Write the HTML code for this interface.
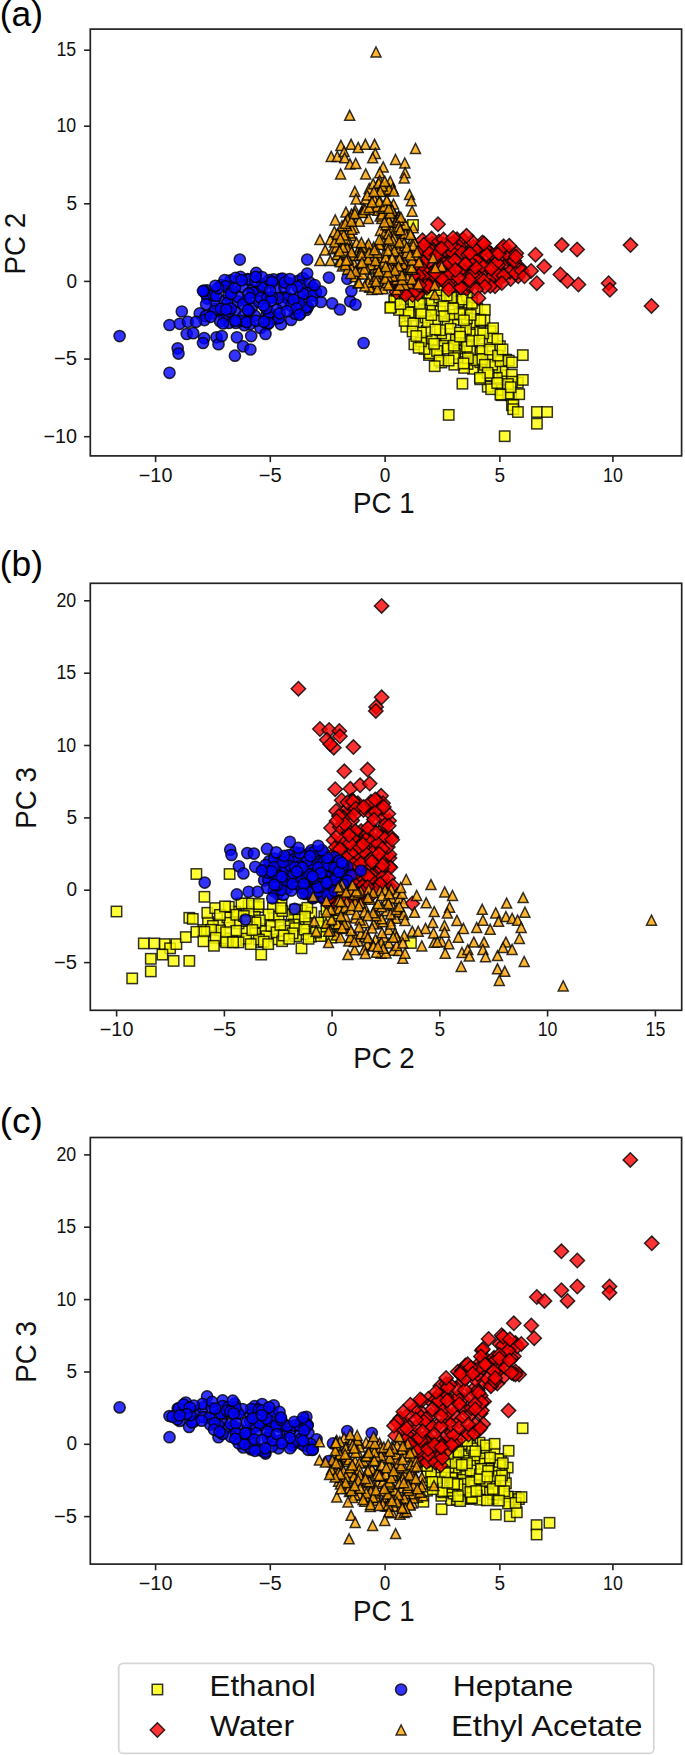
<!DOCTYPE html>
<html><head><meta charset="utf-8"><style>
html,body{margin:0;padding:0;background:#fff;}
svg{display:block;font-family:"Liberation Sans", sans-serif;}
#w{width:685px;height:1755px;overflow:hidden;}
</style></head><body><div id="w">
<svg width="685" height="1755" viewBox="0 0 685 1755">
<rect width="685" height="1755" fill="#fff"/>
<line x1="155.6" y1="455.9" x2="155.6" y2="462.1" stroke="#222" stroke-width="1.6"/>
<text x="155.6" y="481.6" font-size="19.5" text-anchor="middle" fill="#111" textLength="33.6" lengthAdjust="spacingAndGlyphs">−10</text>
<line x1="270.3" y1="455.9" x2="270.3" y2="462.1" stroke="#222" stroke-width="1.6"/>
<text x="270.3" y="481.6" font-size="19.5" text-anchor="middle" fill="#111" textLength="23.0" lengthAdjust="spacingAndGlyphs">−5</text>
<line x1="385.1" y1="455.9" x2="385.1" y2="462.1" stroke="#222" stroke-width="1.6"/>
<text x="385.1" y="481.6" font-size="19.5" text-anchor="middle" fill="#111" textLength="10.6" lengthAdjust="spacingAndGlyphs">0</text>
<line x1="499.9" y1="455.9" x2="499.9" y2="462.1" stroke="#222" stroke-width="1.6"/>
<text x="499.9" y="481.6" font-size="19.5" text-anchor="middle" fill="#111" textLength="10.6" lengthAdjust="spacingAndGlyphs">5</text>
<line x1="612.9" y1="455.9" x2="612.9" y2="462.1" stroke="#222" stroke-width="1.6"/>
<text x="612.9" y="481.6" font-size="19.5" text-anchor="middle" fill="#111" textLength="19.8" lengthAdjust="spacingAndGlyphs">10</text>
<line x1="84.1" y1="436.7" x2="90.3" y2="436.7" stroke="#222" stroke-width="1.6"/>
<text x="77" y="442.8" font-size="19.5" text-anchor="end" fill="#111" textLength="33.6" lengthAdjust="spacingAndGlyphs">−10</text>
<line x1="84.1" y1="359.1" x2="90.3" y2="359.1" stroke="#222" stroke-width="1.6"/>
<text x="77" y="365.2" font-size="19.5" text-anchor="end" fill="#111" textLength="23.0" lengthAdjust="spacingAndGlyphs">−5</text>
<line x1="84.1" y1="281.4" x2="90.3" y2="281.4" stroke="#222" stroke-width="1.6"/>
<text x="77" y="287.5" font-size="19.5" text-anchor="end" fill="#111" textLength="10.6" lengthAdjust="spacingAndGlyphs">0</text>
<line x1="84.1" y1="203.8" x2="90.3" y2="203.8" stroke="#222" stroke-width="1.6"/>
<text x="77" y="209.9" font-size="19.5" text-anchor="end" fill="#111" textLength="10.6" lengthAdjust="spacingAndGlyphs">5</text>
<line x1="84.1" y1="126.2" x2="90.3" y2="126.2" stroke="#222" stroke-width="1.6"/>
<text x="76.2" y="132.3" font-size="19.5" text-anchor="end" fill="#111" textLength="19.8" lengthAdjust="spacingAndGlyphs">10</text>
<line x1="84.1" y1="50.2" x2="90.3" y2="50.2" stroke="#222" stroke-width="1.6"/>
<text x="76.2" y="56.3" font-size="19.5" text-anchor="end" fill="#111" textLength="19.8" lengthAdjust="spacingAndGlyphs">15</text>
<text x="383.9" y="513.1" font-size="29.5" text-anchor="middle" fill="#111" textLength="61.6" lengthAdjust="spacingAndGlyphs">PC 1</text>
<text transform="translate(24.6,243.7) rotate(-90)" x="0" y="0" font-size="29.5" text-anchor="middle" fill="#111" textLength="61.6" lengthAdjust="spacingAndGlyphs">PC 2</text>
<text x="-0.3" y="25.6" font-size="35.5" fill="#000" textLength="43.2" lengthAdjust="spacingAndGlyphs">(a)</text>
<g fill="#ffff00" stroke="#000" stroke-width="1.5" fill-opacity="0.8" stroke-opacity="0.8"><rect x="398.3" y="300.4" width="10.4" height="10.4"/><rect x="434.8" y="306.1" width="10.4" height="10.4"/><rect x="432.4" y="350.6" width="10.4" height="10.4"/><rect x="469.2" y="330.9" width="10.4" height="10.4"/><rect x="483.2" y="351.1" width="10.4" height="10.4"/><rect x="468.6" y="326.4" width="10.4" height="10.4"/><rect x="415.7" y="293.7" width="10.4" height="10.4"/><rect x="399.7" y="308.0" width="10.4" height="10.4"/><rect x="409.2" y="339.1" width="10.4" height="10.4"/><rect x="460.3" y="346.4" width="10.4" height="10.4"/><rect x="467.9" y="363.6" width="10.4" height="10.4"/><rect x="423.3" y="298.6" width="10.4" height="10.4"/><rect x="440.7" y="332.5" width="10.4" height="10.4"/><rect x="475.2" y="347.5" width="10.4" height="10.4"/><rect x="512.6" y="377.4" width="10.4" height="10.4"/><rect x="436.0" y="328.2" width="10.4" height="10.4"/><rect x="416.5" y="317.7" width="10.4" height="10.4"/><rect x="464.8" y="345.5" width="10.4" height="10.4"/><rect x="424.9" y="304.1" width="10.4" height="10.4"/><rect x="452.1" y="343.2" width="10.4" height="10.4"/><rect x="448.8" y="314.6" width="10.4" height="10.4"/><rect x="408.5" y="307.9" width="10.4" height="10.4"/><rect x="462.4" y="358.8" width="10.4" height="10.4"/><rect x="406.6" y="292.1" width="10.4" height="10.4"/><rect x="463.3" y="302.5" width="10.4" height="10.4"/><rect x="460.7" y="286.4" width="10.4" height="10.4"/><rect x="422.2" y="286.9" width="10.4" height="10.4"/><rect x="496.9" y="370.1" width="10.4" height="10.4"/><rect x="420.2" y="312.2" width="10.4" height="10.4"/><rect x="423.0" y="339.3" width="10.4" height="10.4"/><rect x="496.3" y="390.0" width="10.4" height="10.4"/><rect x="497.4" y="365.8" width="10.4" height="10.4"/><rect x="420.8" y="332.7" width="10.4" height="10.4"/><rect x="497.2" y="384.7" width="10.4" height="10.4"/><rect x="427.0" y="334.3" width="10.4" height="10.4"/><rect x="442.4" y="318.4" width="10.4" height="10.4"/><rect x="423.8" y="349.8" width="10.4" height="10.4"/><rect x="456.5" y="307.6" width="10.4" height="10.4"/><rect x="482.5" y="381.5" width="10.4" height="10.4"/><rect x="472.0" y="303.3" width="10.4" height="10.4"/><rect x="475.2" y="313.9" width="10.4" height="10.4"/><rect x="479.2" y="314.7" width="10.4" height="10.4"/><rect x="466.1" y="317.3" width="10.4" height="10.4"/><rect x="437.6" y="340.6" width="10.4" height="10.4"/><rect x="458.9" y="362.7" width="10.4" height="10.4"/><rect x="405.1" y="293.7" width="10.4" height="10.4"/><rect x="461.7" y="313.2" width="10.4" height="10.4"/><rect x="506.0" y="390.0" width="10.4" height="10.4"/><rect x="477.0" y="343.7" width="10.4" height="10.4"/><rect x="467.5" y="329.3" width="10.4" height="10.4"/><rect x="393.8" y="304.7" width="10.4" height="10.4"/><rect x="424.5" y="348.0" width="10.4" height="10.4"/><rect x="486.0" y="384.0" width="10.4" height="10.4"/><rect x="491.6" y="372.6" width="10.4" height="10.4"/><rect x="485.3" y="326.1" width="10.4" height="10.4"/><rect x="479.6" y="304.6" width="10.4" height="10.4"/><rect x="475.1" y="357.0" width="10.4" height="10.4"/><rect x="452.9" y="335.4" width="10.4" height="10.4"/><rect x="445.6" y="294.6" width="10.4" height="10.4"/><rect x="506.6" y="369.5" width="10.4" height="10.4"/><rect x="449.8" y="348.3" width="10.4" height="10.4"/><rect x="430.0" y="315.3" width="10.4" height="10.4"/><rect x="419.3" y="343.8" width="10.4" height="10.4"/><rect x="439.4" y="296.0" width="10.4" height="10.4"/><rect x="404.6" y="310.4" width="10.4" height="10.4"/><rect x="403.4" y="307.1" width="10.4" height="10.4"/><rect x="446.9" y="309.4" width="10.4" height="10.4"/><rect x="401.1" y="321.6" width="10.4" height="10.4"/><rect x="484.2" y="336.1" width="10.4" height="10.4"/><rect x="490.1" y="362.2" width="10.4" height="10.4"/><rect x="389.5" y="294.3" width="10.4" height="10.4"/><rect x="471.0" y="355.0" width="10.4" height="10.4"/><rect x="399.4" y="315.7" width="10.4" height="10.4"/><rect x="415.9" y="336.1" width="10.4" height="10.4"/><rect x="416.9" y="305.5" width="10.4" height="10.4"/><rect x="453.4" y="291.5" width="10.4" height="10.4"/><rect x="454.5" y="308.8" width="10.4" height="10.4"/><rect x="450.6" y="334.3" width="10.4" height="10.4"/><rect x="514.0" y="389.0" width="10.4" height="10.4"/><rect x="475.1" y="315.1" width="10.4" height="10.4"/><rect x="431.8" y="345.7" width="10.4" height="10.4"/><rect x="475.0" y="327.0" width="10.4" height="10.4"/><rect x="460.8" y="323.9" width="10.4" height="10.4"/><rect x="500.8" y="354.4" width="10.4" height="10.4"/><rect x="478.3" y="366.7" width="10.4" height="10.4"/><rect x="421.5" y="325.7" width="10.4" height="10.4"/><rect x="487.0" y="359.5" width="10.4" height="10.4"/><rect x="408.1" y="318.2" width="10.4" height="10.4"/><rect x="426.5" y="295.2" width="10.4" height="10.4"/><rect x="506.7" y="400.1" width="10.4" height="10.4"/><rect x="461.7" y="341.5" width="10.4" height="10.4"/><rect x="445.3" y="323.6" width="10.4" height="10.4"/><rect x="453.5" y="296.2" width="10.4" height="10.4"/><rect x="461.8" y="290.6" width="10.4" height="10.4"/><rect x="494.7" y="341.0" width="10.4" height="10.4"/><rect x="449.1" y="359.5" width="10.4" height="10.4"/><rect x="487.3" y="332.4" width="10.4" height="10.4"/><rect x="434.8" y="325.0" width="10.4" height="10.4"/><rect x="436.2" y="357.3" width="10.4" height="10.4"/><rect x="408.2" y="296.3" width="10.4" height="10.4"/><rect x="398.4" y="287.6" width="10.4" height="10.4"/><rect x="446.0" y="292.5" width="10.4" height="10.4"/><rect x="483.5" y="370.3" width="10.4" height="10.4"/><rect x="506.7" y="376.5" width="10.4" height="10.4"/><rect x="415.8" y="327.3" width="10.4" height="10.4"/><rect x="422.6" y="316.6" width="10.4" height="10.4"/><rect x="416.0" y="307.9" width="10.4" height="10.4"/><rect x="478.0" y="328.2" width="10.4" height="10.4"/><rect x="434.1" y="292.3" width="10.4" height="10.4"/><rect x="457.5" y="294.3" width="10.4" height="10.4"/><rect x="477.2" y="353.9" width="10.4" height="10.4"/><rect x="484.6" y="344.4" width="10.4" height="10.4"/><rect x="465.5" y="309.7" width="10.4" height="10.4"/><rect x="495.3" y="356.1" width="10.4" height="10.4"/><rect x="442.8" y="343.4" width="10.4" height="10.4"/><rect x="426.1" y="309.9" width="10.4" height="10.4"/><rect x="407.4" y="326.3" width="10.4" height="10.4"/><rect x="424.1" y="287.8" width="10.4" height="10.4"/><rect x="492.8" y="350.4" width="10.4" height="10.4"/><rect x="438.2" y="301.1" width="10.4" height="10.4"/><rect x="466.6" y="335.7" width="10.4" height="10.4"/><rect x="474.2" y="335.3" width="10.4" height="10.4"/><rect x="508.2" y="399.8" width="10.4" height="10.4"/><rect x="466.7" y="297.8" width="10.4" height="10.4"/><rect x="411.1" y="330.8" width="10.4" height="10.4"/><rect x="434.0" y="285.0" width="10.4" height="10.4"/><rect x="391.3" y="294.3" width="10.4" height="10.4"/><rect x="479.6" y="359.6" width="10.4" height="10.4"/><rect x="454.6" y="327.4" width="10.4" height="10.4"/><rect x="508.0" y="404.0" width="10.4" height="10.4"/><rect x="414.6" y="298.6" width="10.4" height="10.4"/><rect x="434.3" y="355.2" width="10.4" height="10.4"/><rect x="430.2" y="324.3" width="10.4" height="10.4"/><rect x="462.7" y="353.1" width="10.4" height="10.4"/><rect x="475.0" y="374.1" width="10.4" height="10.4"/><rect x="428.9" y="338.6" width="10.4" height="10.4"/><rect x="497.3" y="344.2" width="10.4" height="10.4"/><rect x="502.9" y="388.4" width="10.4" height="10.4"/><rect x="448.7" y="340.5" width="10.4" height="10.4"/><rect x="389.1" y="295.9" width="10.4" height="10.4"/><rect x="502.7" y="378.8" width="10.4" height="10.4"/><rect x="492.0" y="377.8" width="10.4" height="10.4"/><rect x="385.7" y="302.0" width="10.4" height="10.4"/><rect x="441.5" y="290.3" width="10.4" height="10.4"/><rect x="503.5" y="355.4" width="10.4" height="10.4"/><rect x="448.6" y="352.9" width="10.4" height="10.4"/><rect x="458.3" y="358.2" width="10.4" height="10.4"/><rect x="458.7" y="315.1" width="10.4" height="10.4"/><rect x="439.0" y="311.0" width="10.4" height="10.4"/><rect x="443.4" y="355.4" width="10.4" height="10.4"/><rect x="454.8" y="331.4" width="10.4" height="10.4"/><rect x="482.5" y="367.6" width="10.4" height="10.4"/><rect x="448.0" y="303.2" width="10.4" height="10.4"/><rect x="385.1" y="302.6" width="10.4" height="10.4"/><rect x="395.3" y="298.8" width="10.4" height="10.4"/><rect x="413.4" y="342.6" width="10.4" height="10.4"/><rect x="429.5" y="361.0" width="10.4" height="10.4"/><rect x="457.2" y="378.5" width="10.4" height="10.4"/><rect x="443.5" y="409.7" width="10.4" height="10.4"/><rect x="499.5" y="431.0" width="10.4" height="10.4"/><rect x="517.6" y="349.9" width="10.4" height="10.4"/><rect x="517.6" y="374.7" width="10.4" height="10.4"/><rect x="506.8" y="357.2" width="10.4" height="10.4"/><rect x="531.7" y="406.8" width="10.4" height="10.4"/><rect x="541.9" y="406.8" width="10.4" height="10.4"/><rect x="531.7" y="418.5" width="10.4" height="10.4"/><rect x="512.7" y="406.8" width="10.4" height="10.4"/><rect x="505.4" y="382.0" width="10.4" height="10.4"/><rect x="495.2" y="389.3" width="10.4" height="10.4"/><rect x="487.9" y="323.0" width="10.4" height="10.4"/><rect x="492.2" y="333.8" width="10.4" height="10.4"/><rect x="474.7" y="372.6" width="10.4" height="10.4"/><rect x="407.8" y="219.8" width="10.4" height="10.4"/></g>
<g fill="#ff0000" stroke="#000" stroke-width="1.5" fill-opacity="0.8" stroke-opacity="0.8"><path d="M439.6 252.7L446.8 259.9L439.6 267.1L432.4 259.9Z"/><path d="M436.7 261.9L443.9 269.1L436.7 276.3L429.5 269.1Z"/><path d="M491.9 263.8L499.1 271.0L491.9 278.2L484.7 271.0Z"/><path d="M435.2 274.1L442.4 281.3L435.2 288.5L428.0 281.3Z"/><path d="M432.1 236.4L439.3 243.6L432.1 250.8L424.9 243.6Z"/><path d="M509.2 253.6L516.4 260.8L509.2 268.0L502.0 260.8Z"/><path d="M448.5 251.8L455.7 259.0L448.5 266.2L441.3 259.0Z"/><path d="M467.7 260.5L474.9 267.7L467.7 274.9L460.5 267.7Z"/><path d="M426.8 262.9L434.0 270.1L426.8 277.3L419.6 270.1Z"/><path d="M416.9 246.6L424.1 253.8L416.9 261.0L409.7 253.8Z"/><path d="M457.0 232.0L464.2 239.2L457.0 246.4L449.8 239.2Z"/><path d="M498.5 272.6L505.7 279.8L498.5 287.0L491.3 279.8Z"/><path d="M454.6 268.2L461.8 275.4L454.6 282.6L447.4 275.4Z"/><path d="M424.5 243.6L431.7 250.8L424.5 258.0L417.3 250.8Z"/><path d="M426.9 280.6L434.1 287.8L426.9 295.0L419.7 287.8Z"/><path d="M425.2 237.5L432.4 244.7L425.2 251.9L418.0 244.7Z"/><path d="M512.7 247.9L519.9 255.1L512.7 262.3L505.5 255.1Z"/><path d="M418.8 255.8L426.0 263.0L418.8 270.2L411.6 263.0Z"/><path d="M503.1 252.9L510.3 260.1L503.1 267.3L495.9 260.1Z"/><path d="M441.3 246.3L448.5 253.5L441.3 260.7L434.1 253.5Z"/><path d="M490.2 256.6L497.4 263.8L490.2 271.0L483.0 263.8Z"/><path d="M417.0 275.7L424.2 282.9L417.0 290.1L409.8 282.9Z"/><path d="M429.2 273.7L436.4 280.9L429.2 288.1L422.0 280.9Z"/><path d="M490.9 246.7L498.1 253.9L490.9 261.1L483.7 253.9Z"/><path d="M503.9 259.8L511.1 267.0L503.9 274.2L496.7 267.0Z"/><path d="M423.9 246.5L431.1 253.7L423.9 260.9L416.7 253.7Z"/><path d="M475.7 263.4L482.9 270.6L475.7 277.8L468.5 270.6Z"/><path d="M422.5 233.1L429.7 240.3L422.5 247.5L415.3 240.3Z"/><path d="M463.0 232.4L470.2 239.6L463.0 246.8L455.8 239.6Z"/><path d="M447.0 271.9L454.2 279.1L447.0 286.3L439.8 279.1Z"/><path d="M477.9 247.9L485.1 255.1L477.9 262.3L470.7 255.1Z"/><path d="M443.2 266.7L450.4 273.9L443.2 281.1L436.0 273.9Z"/><path d="M435.5 276.5L442.7 283.7L435.5 290.9L428.3 283.7Z"/><path d="M510.6 271.8L517.8 279.0L510.6 286.2L503.4 279.0Z"/><path d="M490.9 246.2L498.1 253.4L490.9 260.6L483.7 253.4Z"/><path d="M464.6 265.2L471.8 272.4L464.6 279.6L457.4 272.4Z"/><path d="M467.6 239.8L474.8 247.0L467.6 254.2L460.4 247.0Z"/><path d="M452.9 250.9L460.1 258.1L452.9 265.3L445.7 258.1Z"/><path d="M448.9 262.5L456.1 269.7L448.9 276.9L441.7 269.7Z"/><path d="M433.3 267.3L440.5 274.5L433.3 281.7L426.1 274.5Z"/><path d="M507.7 245.4L514.9 252.6L507.7 259.8L500.5 252.6Z"/><path d="M437.7 243.4L444.9 250.6L437.7 257.8L430.5 250.6Z"/><path d="M484.8 241.1L492.0 248.3L484.8 255.5L477.6 248.3Z"/><path d="M455.0 274.3L462.2 281.5L455.0 288.7L447.8 281.5Z"/><path d="M472.4 271.8L479.6 279.0L472.4 286.2L465.2 279.0Z"/><path d="M484.1 265.4L491.3 272.6L484.1 279.8L476.9 272.6Z"/><path d="M489.3 261.5L496.5 268.7L489.3 275.9L482.1 268.7Z"/><path d="M423.6 263.2L430.8 270.4L423.6 277.6L416.4 270.4Z"/><path d="M466.5 279.3L473.7 286.5L466.5 293.7L459.3 286.5Z"/><path d="M482.3 256.5L489.5 263.7L482.3 270.9L475.1 263.7Z"/><path d="M474.8 246.4L482.0 253.6L474.8 260.8L467.6 253.6Z"/><path d="M444.1 256.9L451.3 264.1L444.1 271.3L436.9 264.1Z"/><path d="M458.5 246.2L465.7 253.4L458.5 260.6L451.3 253.4Z"/><path d="M506.3 246.2L513.5 253.4L506.3 260.6L499.1 253.4Z"/><path d="M423.3 269.1L430.5 276.3L423.3 283.5L416.1 276.3Z"/><path d="M495.0 279.1L502.2 286.3L495.0 293.5L487.8 286.3Z"/><path d="M416.4 267.0L423.6 274.2L416.4 281.4L409.2 274.2Z"/><path d="M428.9 254.4L436.1 261.6L428.9 268.8L421.7 261.6Z"/><path d="M516.3 246.1L523.5 253.3L516.3 260.5L509.1 253.3Z"/><path d="M443.8 274.3L451.0 281.5L443.8 288.7L436.6 281.5Z"/><path d="M482.0 258.8L489.2 266.0L482.0 273.2L474.8 266.0Z"/><path d="M466.7 281.6L473.9 288.8L466.7 296.0L459.5 288.8Z"/><path d="M431.6 231.4L438.8 238.6L431.6 245.8L424.4 238.6Z"/><path d="M441.2 260.1L448.4 267.3L441.2 274.5L434.0 267.3Z"/><path d="M501.1 264.4L508.3 271.6L501.1 278.8L493.9 271.6Z"/><path d="M426.1 278.3L433.3 285.5L426.1 292.7L418.9 285.5Z"/><path d="M519.3 259.8L526.5 267.0L519.3 274.2L512.1 267.0Z"/><path d="M453.1 236.1L460.3 243.3L453.1 250.5L445.9 243.3Z"/><path d="M477.7 275.5L484.9 282.7L477.7 289.9L470.5 282.7Z"/><path d="M459.1 239.3L466.3 246.5L459.1 253.7L451.9 246.5Z"/><path d="M502.4 240.7L509.6 247.9L502.4 255.1L495.2 247.9Z"/><path d="M490.9 270.7L498.1 277.9L490.9 285.1L483.7 277.9Z"/><path d="M455.6 241.0L462.8 248.2L455.6 255.4L448.4 248.2Z"/><path d="M430.7 243.1L437.9 250.3L430.7 257.5L423.5 250.3Z"/><path d="M477.5 269.4L484.7 276.6L477.5 283.8L470.3 276.6Z"/><path d="M449.7 267.0L456.9 274.2L449.7 281.4L442.5 274.2Z"/><path d="M458.4 278.8L465.6 286.0L458.4 293.2L451.2 286.0Z"/><path d="M473.4 239.8L480.6 247.0L473.4 254.2L466.2 247.0Z"/><path d="M448.5 278.5L455.7 285.7L448.5 292.9L441.3 285.7Z"/><path d="M452.4 245.4L459.6 252.6L452.4 259.8L445.2 252.6Z"/><path d="M417.8 260.4L425.0 267.6L417.8 274.8L410.6 267.6Z"/><path d="M420.2 242.1L427.4 249.3L420.2 256.5L413.0 249.3Z"/><path d="M461.1 262.2L468.3 269.4L461.1 276.6L453.9 269.4Z"/><path d="M518.2 269.0L525.4 276.2L518.2 283.4L511.0 276.2Z"/><path d="M422.9 255.0L430.1 262.2L422.9 269.4L415.7 262.2Z"/><path d="M429.3 246.1L436.5 253.3L429.3 260.5L422.1 253.3Z"/><path d="M498.3 257.8L505.5 265.0L498.3 272.2L491.1 265.0Z"/><path d="M515.2 258.7L522.4 265.9L515.2 273.1L508.0 265.9Z"/><path d="M475.8 252.8L483.0 260.0L475.8 267.2L468.6 260.0Z"/><path d="M496.7 255.6L503.9 262.8L496.7 270.0L489.5 262.8Z"/><path d="M490.3 278.7L497.5 285.9L490.3 293.1L483.1 285.9Z"/><path d="M498.2 267.8L505.4 275.0L498.2 282.2L491.0 275.0Z"/><path d="M510.0 264.6L517.2 271.8L510.0 279.0L502.8 271.8Z"/><path d="M441.6 271.3L448.8 278.5L441.6 285.7L434.4 278.5Z"/><path d="M515.7 266.0L522.9 273.2L515.7 280.4L508.5 273.2Z"/><path d="M503.5 268.6L510.7 275.8L503.5 283.0L496.3 275.8Z"/><path d="M469.1 278.0L476.3 285.2L469.1 292.4L461.9 285.2Z"/><path d="M449.4 256.2L456.6 263.4L449.4 270.6L442.2 263.4Z"/><path d="M514.2 253.5L521.4 260.7L514.2 267.9L507.0 260.7Z"/><path d="M448.6 282.4L455.8 289.6L448.6 296.8L441.4 289.6Z"/><path d="M460.8 280.4L468.0 287.6L460.8 294.8L453.6 287.6Z"/><path d="M472.1 267.2L479.3 274.4L472.1 281.6L464.9 274.4Z"/><path d="M483.8 273.5L491.0 280.7L483.8 287.9L476.6 280.7Z"/><path d="M501.8 275.9L509.0 283.1L501.8 290.3L494.6 283.1Z"/><path d="M423.9 237.6L431.1 244.8L423.9 252.0L416.7 244.8Z"/><path d="M462.2 245.5L469.4 252.7L462.2 259.9L455.0 252.7Z"/><path d="M439.0 234.2L446.2 241.4L439.0 248.6L431.8 241.4Z"/><path d="M476.8 241.1L484.0 248.3L476.8 255.5L469.6 248.3Z"/><path d="M436.6 247.8L443.8 255.0L436.6 262.2L429.4 255.0Z"/><path d="M443.7 237.9L450.9 245.1L443.7 252.3L436.5 245.1Z"/><path d="M521.7 263.6L528.9 270.8L521.7 278.0L514.5 270.8Z"/><path d="M497.7 245.1L504.9 252.3L497.7 259.5L490.5 252.3Z"/><path d="M469.3 272.5L476.5 279.7L469.3 286.9L462.1 279.7Z"/><path d="M443.5 232.2L450.7 239.4L443.5 246.6L436.3 239.4Z"/><path d="M450.4 237.3L457.6 244.5L450.4 251.7L443.2 244.5Z"/><path d="M475.4 259.9L482.6 267.1L475.4 274.3L468.2 267.1Z"/><path d="M453.1 230.7L460.3 237.9L453.1 245.1L445.9 237.9Z"/><path d="M482.4 235.2L489.6 242.4L482.4 249.6L475.2 242.4Z"/><path d="M468.0 247.6L475.2 254.8L468.0 262.0L460.8 254.8Z"/><path d="M441.6 241.2L448.8 248.4L441.6 255.6L434.4 248.4Z"/><path d="M472.0 234.2L479.2 241.4L472.0 248.6L464.8 241.4Z"/><path d="M469.1 254.0L476.3 261.2L469.1 268.4L461.9 261.2Z"/><path d="M454.8 253.2L462.0 260.4L454.8 267.6L447.6 260.4Z"/><path d="M465.4 256.7L472.6 263.9L465.4 271.1L458.2 263.9Z"/><path d="M420.2 259.4L427.4 266.6L420.2 273.8L413.0 266.6Z"/><path d="M491.3 261.3L498.5 268.5L491.3 275.7L484.1 268.5Z"/><path d="M486.6 247.4L493.8 254.6L486.6 261.8L479.4 254.6Z"/><path d="M458.5 270.4L465.7 277.6L458.5 284.8L451.3 277.6Z"/><path d="M435.1 265.5L442.3 272.7L435.1 279.9L427.9 272.7Z"/><path d="M498.8 246.4L506.0 253.6L498.8 260.8L491.6 253.6Z"/><path d="M470.0 246.1L477.2 253.3L470.0 260.5L462.8 253.3Z"/><path d="M484.8 279.5L492.0 286.7L484.8 293.9L477.6 286.7Z"/><path d="M455.3 262.8L462.5 270.0L455.3 277.2L448.1 270.0Z"/><path d="M428.5 279.0L435.7 286.2L428.5 293.4L421.3 286.2Z"/><path d="M476.2 282.3L483.4 289.5L476.2 296.7L469.0 289.5Z"/><path d="M503.6 239.1L510.8 246.3L503.6 253.5L496.4 246.3Z"/><path d="M415.9 271.7L423.1 278.9L415.9 286.1L408.7 278.9Z"/><path d="M412.5 287.9L419.7 295.1L412.5 302.3L405.3 295.1Z"/><path d="M395.0 273.3L402.2 280.5L395.0 287.7L387.8 280.5Z"/><path d="M404.8 277.4L412.0 284.6L404.8 291.8L397.6 284.6Z"/><path d="M408.8 279.2L416.0 286.4L408.8 293.6L401.6 286.4Z"/><path d="M418.7 268.5L425.9 275.7L418.7 282.9L411.5 275.7Z"/><path d="M413.3 259.4L420.5 266.6L413.3 273.8L406.1 266.6Z"/><path d="M417.8 286.8L425.0 294.0L417.8 301.2L410.6 294.0Z"/><path d="M396.7 265.4L403.9 272.6L396.7 279.8L389.5 272.6Z"/><path d="M404.7 271.7L411.9 278.9L404.7 286.1L397.5 278.9Z"/><path d="M416.5 256.2L423.7 263.4L416.5 270.6L409.3 263.4Z"/><path d="M406.7 283.3L413.9 290.5L406.7 297.7L399.5 290.5Z"/><path d="M406.3 260.2L413.5 267.4L406.3 274.6L399.1 267.4Z"/><path d="M393.3 261.2L400.5 268.4L393.3 275.6L386.1 268.4Z"/><path d="M401.4 283.4L408.6 290.6L401.4 297.8L394.2 290.6Z"/><path d="M402.8 261.2L410.0 268.4L402.8 275.6L395.6 268.4Z"/><path d="M415.6 283.3L422.8 290.5L415.6 297.7L408.4 290.5Z"/><path d="M405.5 287.7L412.7 294.9L405.5 302.1L398.3 294.9Z"/><path d="M408.0 274.3L415.2 281.5L408.0 288.7L400.8 281.5Z"/><path d="M401.3 277.3L408.5 284.5L401.3 291.7L394.1 284.5Z"/><path d="M413.1 268.4L420.3 275.6L413.1 282.8L405.9 275.6Z"/><path d="M419.3 278.1L426.5 285.3L419.3 292.5L412.1 285.3Z"/><path d="M406.6 263.6L413.8 270.8L406.6 278.0L399.4 270.8Z"/><path d="M396.4 284.8L403.6 292.0L396.4 299.2L389.2 292.0Z"/><path d="M438.0 217.0L445.2 224.2L438.0 231.4L430.8 224.2Z"/><path d="M466.5 228.6L473.7 235.8L466.5 243.0L459.3 235.8Z"/><path d="M484.0 236.3L491.2 243.5L484.0 250.7L476.8 243.5Z"/><path d="M509.2 238.5L516.4 245.7L509.2 252.9L502.0 245.7Z"/><path d="M515.8 249.4L523.0 256.6L515.8 263.8L508.6 256.6Z"/><path d="M524.5 269.1L531.7 276.3L524.5 283.5L517.3 276.3Z"/><path d="M478.5 291.0L485.7 298.2L478.5 305.4L471.3 298.2Z"/><path d="M535.5 247.5L542.7 254.7L535.5 261.9L528.3 254.7Z"/><path d="M544.2 259.4L551.4 266.6L544.2 273.8L537.0 266.6Z"/><path d="M531.1 263.7L538.3 270.9L531.1 278.1L523.9 270.9Z"/><path d="M536.8 276.0L544.0 283.2L536.8 290.4L529.6 283.2Z"/><path d="M561.8 237.9L569.0 245.1L561.8 252.3L554.6 245.1Z"/><path d="M577.1 242.3L584.3 249.5L577.1 256.7L569.9 249.5Z"/><path d="M630.5 237.9L637.7 245.1L630.5 252.3L623.3 245.1Z"/><path d="M560.4 267.3L567.6 274.5L560.4 281.7L553.2 274.5Z"/><path d="M567.4 273.8L574.6 281.0L567.4 288.2L560.2 281.0Z"/><path d="M578.4 277.3L585.6 284.5L578.4 291.7L571.2 284.5Z"/><path d="M608.6 276.0L615.8 283.2L608.6 290.4L601.4 283.2Z"/><path d="M609.9 282.6L617.1 289.8L609.9 297.0L602.7 289.8Z"/><path d="M651.5 298.8L658.7 306.0L651.5 313.2L644.3 306.0Z"/></g>
<g fill="#0000ff" stroke="#000" stroke-width="1.5" fill-opacity="0.8" stroke-opacity="0.8"><circle cx="220.6" cy="311.7" r="5.6"/><circle cx="251.8" cy="307.4" r="5.6"/><circle cx="260.4" cy="328.0" r="5.6"/><circle cx="275.6" cy="289.1" r="5.6"/><circle cx="286.8" cy="297.2" r="5.6"/><circle cx="312.7" cy="287.3" r="5.6"/><circle cx="249.7" cy="324.2" r="5.6"/><circle cx="307.9" cy="307.1" r="5.6"/><circle cx="244.4" cy="325.2" r="5.6"/><circle cx="284.7" cy="296.9" r="5.6"/><circle cx="275.7" cy="319.1" r="5.6"/><circle cx="235.1" cy="311.9" r="5.6"/><circle cx="252.6" cy="290.1" r="5.6"/><circle cx="258.8" cy="301.7" r="5.6"/><circle cx="280.4" cy="279.2" r="5.6"/><circle cx="266.4" cy="315.2" r="5.6"/><circle cx="212.6" cy="313.3" r="5.6"/><circle cx="268.5" cy="316.4" r="5.6"/><circle cx="207.3" cy="298.6" r="5.6"/><circle cx="298.1" cy="280.9" r="5.6"/><circle cx="247.6" cy="279.0" r="5.6"/><circle cx="248.7" cy="279.6" r="5.6"/><circle cx="291.1" cy="319.9" r="5.6"/><circle cx="259.4" cy="289.7" r="5.6"/><circle cx="254.7" cy="315.7" r="5.6"/><circle cx="221.2" cy="285.0" r="5.6"/><circle cx="304.7" cy="301.0" r="5.6"/><circle cx="215.1" cy="309.2" r="5.6"/><circle cx="243.6" cy="316.0" r="5.6"/><circle cx="269.4" cy="312.7" r="5.6"/><circle cx="214.4" cy="300.7" r="5.6"/><circle cx="252.9" cy="292.6" r="5.6"/><circle cx="207.1" cy="290.3" r="5.6"/><circle cx="308.8" cy="290.4" r="5.6"/><circle cx="205.9" cy="294.0" r="5.6"/><circle cx="237.7" cy="301.3" r="5.6"/><circle cx="287.6" cy="282.6" r="5.6"/><circle cx="228.7" cy="323.0" r="5.6"/><circle cx="273.4" cy="279.3" r="5.6"/><circle cx="299.1" cy="296.4" r="5.6"/><circle cx="224.8" cy="300.8" r="5.6"/><circle cx="316.0" cy="292.3" r="5.6"/><circle cx="269.7" cy="297.6" r="5.6"/><circle cx="224.3" cy="316.2" r="5.6"/><circle cx="312.5" cy="295.5" r="5.6"/><circle cx="302.7" cy="278.1" r="5.6"/><circle cx="262.0" cy="284.4" r="5.6"/><circle cx="263.1" cy="286.2" r="5.6"/><circle cx="266.3" cy="308.4" r="5.6"/><circle cx="228.4" cy="294.8" r="5.6"/><circle cx="240.5" cy="276.9" r="5.6"/><circle cx="280.9" cy="324.3" r="5.6"/><circle cx="227.3" cy="303.0" r="5.6"/><circle cx="242.2" cy="286.6" r="5.6"/><circle cx="220.9" cy="308.8" r="5.6"/><circle cx="241.8" cy="321.0" r="5.6"/><circle cx="306.2" cy="310.0" r="5.6"/><circle cx="213.4" cy="295.0" r="5.6"/><circle cx="295.1" cy="313.7" r="5.6"/><circle cx="260.7" cy="297.9" r="5.6"/><circle cx="230.5" cy="280.4" r="5.6"/><circle cx="246.1" cy="300.4" r="5.6"/><circle cx="224.7" cy="280.0" r="5.6"/><circle cx="300.7" cy="285.4" r="5.6"/><circle cx="216.1" cy="296.0" r="5.6"/><circle cx="284.5" cy="287.5" r="5.6"/><circle cx="300.3" cy="313.6" r="5.6"/><circle cx="267.4" cy="297.9" r="5.6"/><circle cx="282.5" cy="278.6" r="5.6"/><circle cx="248.8" cy="311.0" r="5.6"/><circle cx="269.1" cy="280.1" r="5.6"/><circle cx="238.2" cy="297.0" r="5.6"/><circle cx="243.1" cy="304.3" r="5.6"/><circle cx="199.7" cy="313.4" r="5.6"/><circle cx="267.6" cy="324.3" r="5.6"/><circle cx="287.6" cy="298.1" r="5.6"/><circle cx="225.6" cy="286.3" r="5.6"/><circle cx="231.7" cy="291.1" r="5.6"/><circle cx="203.9" cy="290.7" r="5.6"/><circle cx="283.1" cy="304.2" r="5.6"/><circle cx="291.1" cy="305.7" r="5.6"/><circle cx="320.9" cy="302.0" r="5.6"/><circle cx="220.1" cy="321.2" r="5.6"/><circle cx="306.1" cy="307.4" r="5.6"/><circle cx="246.6" cy="322.0" r="5.6"/><circle cx="231.0" cy="293.7" r="5.6"/><circle cx="284.7" cy="282.6" r="5.6"/><circle cx="278.1" cy="298.1" r="5.6"/><circle cx="272.1" cy="282.0" r="5.6"/><circle cx="272.4" cy="297.6" r="5.6"/><circle cx="271.1" cy="300.6" r="5.6"/><circle cx="256.2" cy="272.9" r="5.6"/><circle cx="303.2" cy="293.9" r="5.6"/><circle cx="279.1" cy="318.0" r="5.6"/><circle cx="235.0" cy="287.4" r="5.6"/><circle cx="229.0" cy="311.5" r="5.6"/><circle cx="297.5" cy="286.7" r="5.6"/><circle cx="277.0" cy="309.8" r="5.6"/><circle cx="263.6" cy="305.5" r="5.6"/><circle cx="309.6" cy="282.4" r="5.6"/><circle cx="218.2" cy="288.3" r="5.6"/><circle cx="235.9" cy="322.9" r="5.6"/><circle cx="291.6" cy="289.4" r="5.6"/><circle cx="235.5" cy="277.9" r="5.6"/><circle cx="289.8" cy="279.1" r="5.6"/><circle cx="321.1" cy="291.6" r="5.6"/><circle cx="269.0" cy="323.1" r="5.6"/><circle cx="248.6" cy="293.6" r="5.6"/><circle cx="230.9" cy="308.6" r="5.6"/><circle cx="223.0" cy="323.5" r="5.6"/><circle cx="299.1" cy="303.1" r="5.6"/><circle cx="235.4" cy="320.7" r="5.6"/><circle cx="241.6" cy="280.2" r="5.6"/><circle cx="256.0" cy="320.8" r="5.6"/><circle cx="206.1" cy="304.3" r="5.6"/><circle cx="312.1" cy="301.7" r="5.6"/><circle cx="205.8" cy="316.1" r="5.6"/><circle cx="255.3" cy="281.2" r="5.6"/><circle cx="263.9" cy="321.7" r="5.6"/><circle cx="248.0" cy="310.0" r="5.6"/><circle cx="226.1" cy="309.6" r="5.6"/><circle cx="204.5" cy="320.1" r="5.6"/><circle cx="293.5" cy="299.8" r="5.6"/><circle cx="279.7" cy="313.3" r="5.6"/><circle cx="262.0" cy="277.0" r="5.6"/><circle cx="270.1" cy="290.7" r="5.6"/><circle cx="296.5" cy="308.4" r="5.6"/><circle cx="287.1" cy="311.2" r="5.6"/><circle cx="255.7" cy="276.9" r="5.6"/><circle cx="249.9" cy="298.2" r="5.6"/><circle cx="210.6" cy="316.8" r="5.6"/><circle cx="119.6" cy="336.1" r="5.6"/><circle cx="169.5" cy="372.8" r="5.6"/><circle cx="177.7" cy="348.3" r="5.6"/><circle cx="178.5" cy="353.6" r="5.6"/><circle cx="169.5" cy="325.0" r="5.6"/><circle cx="181.8" cy="311.5" r="5.6"/><circle cx="179.7" cy="323.8" r="5.6"/><circle cx="187.9" cy="321.8" r="5.6"/><circle cx="196.1" cy="321.8" r="5.6"/><circle cx="186.7" cy="334.0" r="5.6"/><circle cx="193.2" cy="333.2" r="5.6"/><circle cx="204.2" cy="338.1" r="5.6"/><circle cx="203.0" cy="343.0" r="5.6"/><circle cx="216.5" cy="337.3" r="5.6"/><circle cx="218.5" cy="344.2" r="5.6"/><circle cx="221.8" cy="336.1" r="5.6"/><circle cx="234.9" cy="355.7" r="5.6"/><circle cx="236.9" cy="337.3" r="5.6"/><circle cx="243.1" cy="346.3" r="5.6"/><circle cx="250.4" cy="349.5" r="5.6"/><circle cx="251.2" cy="336.1" r="5.6"/><circle cx="265.5" cy="334.0" r="5.6"/><circle cx="239.8" cy="259.6" r="5.6"/><circle cx="307.2" cy="259.6" r="5.6"/><circle cx="307.2" cy="273.5" r="5.6"/><circle cx="328.9" cy="277.6" r="5.6"/><circle cx="332.2" cy="303.4" r="5.6"/><circle cx="339.9" cy="309.5" r="5.6"/><circle cx="350.2" cy="301.3" r="5.6"/><circle cx="355.5" cy="304.6" r="5.6"/><circle cx="351.4" cy="291.1" r="5.6"/><circle cx="347.3" cy="278.8" r="5.6"/><circle cx="363.6" cy="343.0" r="5.6"/><circle cx="215.3" cy="285.8" r="5.6"/><circle cx="203.0" cy="291.1" r="5.6"/><circle cx="299.5" cy="314.8" r="5.6"/><circle cx="314.6" cy="285.0" r="5.6"/></g>
<g fill="#ffa500" stroke="#000" stroke-width="1.5" fill-opacity="0.8" stroke-opacity="0.8"><path d="M376.0 47.0L381.0 57.0L371.0 57.0Z"/><path d="M349.7 110.3L354.7 120.3L344.7 120.3Z"/><path d="M340.9 140.4L345.9 150.4L335.9 150.4Z"/><path d="M351.1 139.3L356.1 149.3L346.1 149.3Z"/><path d="M358.2 142.4L363.2 152.4L353.2 152.4Z"/><path d="M365.4 139.3L370.4 149.3L360.4 149.3Z"/><path d="M374.6 139.3L379.6 149.3L369.6 149.3Z"/><path d="M415.5 143.4L420.5 153.4L410.5 153.4Z"/><path d="M331.2 151.4L336.2 161.4L326.2 161.4Z"/><path d="M337.3 151.4L342.3 161.4L332.3 161.4Z"/><path d="M344.1 146.6L349.1 156.6L339.1 156.6Z"/><path d="M344.7 152.8L349.7 162.8L339.7 162.8Z"/><path d="M349.9 158.9L354.9 168.9L344.9 168.9Z"/><path d="M355.7 158.4L360.7 168.4L350.7 168.4Z"/><path d="M375.3 148.4L380.3 158.4L370.3 158.4Z"/><path d="M372.7 152.8L377.7 162.8L367.7 162.8Z"/><path d="M395.5 154.5L400.5 164.5L390.5 164.5Z"/><path d="M404.8 158.0L409.8 168.0L399.8 168.0Z"/><path d="M340.6 168.9L345.6 178.9L335.6 178.9Z"/><path d="M365.7 168.9L370.7 178.9L360.7 178.9Z"/><path d="M383.2 161.9L388.2 171.9L378.2 171.9Z"/><path d="M379.7 167.7L384.7 177.7L374.7 177.7Z"/><path d="M405.1 167.7L410.1 177.7L400.1 177.7Z"/><path d="M404.2 172.9L409.2 182.9L399.2 182.9Z"/><path d="M379.7 175.5L384.7 185.5L374.7 185.5Z"/><path d="M390.2 176.4L395.2 186.4L385.2 186.4Z"/><path d="M385.8 180.8L390.8 190.8L380.8 190.8Z"/><path d="M392.8 183.4L397.8 193.4L387.8 193.4Z"/><path d="M354.8 186.4L359.8 196.4L349.8 196.4Z"/><path d="M369.2 183.4L374.2 193.4L364.2 193.4Z"/><path d="M376.2 185.7L381.2 195.7L371.2 195.7Z"/><path d="M385.0 186.1L390.0 196.1L380.0 196.1Z"/><path d="M356.1 193.9L361.1 203.9L351.1 203.9Z"/><path d="M365.7 193.9L370.7 203.9L360.7 203.9Z"/><path d="M374.5 194.8L379.5 204.8L369.5 204.8Z"/><path d="M379.7 195.7L384.7 205.7L374.7 205.7Z"/><path d="M386.7 195.7L391.7 205.7L381.7 205.7Z"/><path d="M409.5 189.6L414.5 199.6L404.5 199.6Z"/><path d="M411.2 195.7L416.2 205.7L406.2 205.7Z"/><path d="M345.9 207.1L350.9 217.1L340.9 217.1Z"/><path d="M355.2 205.3L360.2 215.3L350.2 215.3Z"/><path d="M363.1 203.6L368.1 213.6L358.1 213.6Z"/><path d="M370.1 204.5L375.1 214.5L365.1 214.5Z"/><path d="M378.0 205.3L383.0 215.3L373.0 215.3Z"/><path d="M391.1 202.7L396.1 212.7L386.1 212.7Z"/><path d="M412.1 206.2L417.1 216.2L407.1 216.2Z"/><path d="M393.5 199.1L398.5 209.1L388.5 209.1Z"/><path d="M362.0 207.0L367.0 217.0L357.0 217.0Z"/><path d="M385.6 205.7L390.6 215.7L380.6 215.7Z"/><path d="M398.8 210.9L403.8 220.9L393.8 220.9Z"/><path d="M335.2 214.9L340.2 224.9L330.2 224.9Z"/><path d="M346.2 216.2L351.2 226.2L341.2 226.2Z"/><path d="M359.3 216.2L364.3 226.2L354.3 226.2Z"/><path d="M368.5 213.5L373.5 223.5L363.5 223.5Z"/><path d="M381.7 213.5L386.7 223.5L376.7 223.5Z"/><path d="M389.6 214.9L394.6 224.9L384.6 224.9Z"/><path d="M319.9 234.6L324.9 244.6L314.9 244.6Z"/><path d="M330.4 234.6L335.4 244.6L325.4 244.6Z"/><path d="M334.4 226.7L339.4 236.7L329.4 236.7Z"/><path d="M340.9 225.4L345.9 235.4L335.9 235.4Z"/><path d="M348.3 225.4L353.3 235.4L343.3 235.4Z"/><path d="M354.1 222.7L359.1 232.7L349.1 232.7Z"/><path d="M380.4 225.4L385.4 235.4L375.4 235.4Z"/><path d="M390.9 222.7L395.9 232.7L385.9 232.7Z"/><path d="M401.4 225.4L406.4 235.4L396.4 235.4Z"/><path d="M413.2 222.7L418.2 232.7L408.2 232.7Z"/><path d="M325.2 245.1L330.2 255.1L320.2 255.1Z"/><path d="M333.1 243.8L338.1 253.8L328.1 253.8Z"/><path d="M319.9 255.6L324.9 265.6L314.9 265.6Z"/><path d="M330.4 255.6L335.4 265.6L325.4 265.6Z"/><path d="M339.6 255.6L344.6 265.6L334.6 265.6Z"/><path d="M370.1 257.0L375.1 267.0L365.1 267.0Z"/><path d="M342.2 227.2L347.2 237.2L337.2 237.2Z"/><path d="M399.7 232.7L404.7 242.7L394.7 242.7Z"/><path d="M412.8 233.4L417.8 243.4L407.8 243.4Z"/><path d="M374.3 264.1L379.3 274.1L369.3 274.1Z"/><path d="M351.4 209.1L356.4 219.1L346.4 219.1Z"/><path d="M336.8 235.6L341.8 245.6L331.8 245.6Z"/><path d="M360.3 242.6L365.3 252.6L355.3 252.6Z"/><path d="M367.1 241.1L372.1 251.1L362.1 251.1Z"/><path d="M402.9 248.9L407.9 258.9L397.9 258.9Z"/><path d="M353.2 257.2L358.2 267.2L348.2 267.2Z"/><path d="M358.0 268.8L363.0 278.8L353.0 278.8Z"/><path d="M396.8 274.4L401.8 284.4L391.8 284.4Z"/><path d="M384.3 229.0L389.3 239.0L379.3 239.0Z"/><path d="M399.0 249.5L404.0 259.5L394.0 259.5Z"/><path d="M374.7 278.6L379.7 288.6L369.7 288.6Z"/><path d="M361.4 264.0L366.4 274.0L356.4 274.0Z"/><path d="M390.0 236.4L395.0 246.4L385.0 246.4Z"/><path d="M389.7 258.5L394.7 268.5L384.7 268.5Z"/><path d="M355.0 271.8L360.0 281.8L350.0 281.8Z"/><path d="M373.7 242.0L378.7 252.0L368.7 252.0Z"/><path d="M384.7 248.2L389.7 258.2L379.7 258.2Z"/><path d="M390.6 212.1L395.6 222.1L385.6 222.1Z"/><path d="M377.5 262.6L382.5 272.6L372.5 272.6Z"/><path d="M368.5 238.9L373.5 248.9L363.5 248.9Z"/><path d="M358.0 246.5L363.0 256.5L353.0 256.5Z"/><path d="M371.0 259.7L376.0 269.7L366.0 269.7Z"/><path d="M351.7 230.5L356.7 240.5L346.7 240.5Z"/><path d="M399.0 271.2L404.0 281.2L394.0 281.2Z"/><path d="M371.9 284.4L376.9 294.4L366.9 294.4Z"/><path d="M362.4 207.6L367.4 217.6L357.4 217.6Z"/><path d="M371.0 201.5L376.0 211.5L366.0 211.5Z"/><path d="M390.0 222.3L395.0 232.3L385.0 232.3Z"/><path d="M398.2 245.9L403.2 255.9L393.2 255.9Z"/><path d="M380.2 210.9L385.2 220.9L375.2 220.9Z"/><path d="M396.8 284.6L401.8 294.6L391.8 294.6Z"/><path d="M382.0 209.1L387.0 219.1L377.0 219.1Z"/><path d="M413.9 236.2L418.9 246.2L408.9 246.2Z"/><path d="M389.4 279.7L394.4 289.7L384.4 289.7Z"/><path d="M362.4 242.3L367.4 252.3L357.4 252.3Z"/><path d="M410.1 247.1L415.1 257.1L405.1 257.1Z"/><path d="M350.1 227.9L355.1 237.9L345.1 237.9Z"/><path d="M392.6 206.0L397.6 216.0L387.6 216.0Z"/><path d="M348.5 236.1L353.5 246.1L343.5 246.1Z"/><path d="M409.2 278.3L414.2 288.3L404.2 288.3Z"/><path d="M369.6 282.2L374.6 292.2L364.6 292.2Z"/><path d="M392.7 271.0L397.7 281.0L387.7 281.0Z"/><path d="M351.9 224.3L356.9 234.3L346.9 234.3Z"/><path d="M403.9 268.0L408.9 278.0L398.9 278.0Z"/><path d="M382.8 236.3L387.8 246.3L377.8 246.3Z"/><path d="M397.8 243.1L402.8 253.1L392.8 253.1Z"/><path d="M352.1 250.4L357.1 260.4L347.1 260.4Z"/><path d="M350.7 212.6L355.7 222.6L345.7 222.6Z"/><path d="M404.5 240.8L409.5 250.8L399.5 250.8Z"/><path d="M402.2 219.9L407.2 229.9L397.2 229.9Z"/><path d="M350.3 243.9L355.3 253.9L345.3 253.9Z"/><path d="M401.4 233.1L406.4 243.1L396.4 243.1Z"/><path d="M378.9 258.7L383.9 268.7L373.9 268.7Z"/><path d="M381.6 279.7L386.6 289.7L376.6 289.7Z"/><path d="M358.9 250.4L363.9 260.4L353.9 260.4Z"/><path d="M346.6 220.6L351.6 230.6L341.6 230.6Z"/><path d="M395.5 224.7L400.5 234.7L390.5 234.7Z"/><path d="M404.7 279.8L409.7 289.8L399.7 289.8Z"/><path d="M339.1 249.6L344.1 259.6L334.1 259.6Z"/><path d="M387.2 212.6L392.2 222.6L382.2 222.6Z"/><path d="M366.1 263.1L371.1 273.1L361.1 273.1Z"/><path d="M407.7 269.7L412.7 279.7L402.7 279.7Z"/><path d="M404.0 255.9L409.0 265.9L399.0 265.9Z"/><path d="M342.4 261.0L347.4 271.0L337.4 271.0Z"/><path d="M409.6 227.4L414.6 237.4L404.6 237.4Z"/><path d="M378.9 252.7L383.9 262.7L373.9 262.7Z"/><path d="M383.9 257.0L388.9 267.0L378.9 267.0Z"/><path d="M336.3 242.3L341.3 252.3L331.3 252.3Z"/><path d="M392.2 239.2L397.2 249.2L387.2 249.2Z"/><path d="M387.8 240.4L392.8 250.4L382.8 250.4Z"/><path d="M398.5 211.7L403.5 221.7L393.5 221.7Z"/><path d="M383.0 283.7L388.0 293.7L378.0 293.7Z"/><path d="M392.0 205.2L397.0 215.2L387.0 215.2Z"/><path d="M369.6 272.3L374.6 282.3L364.6 282.3Z"/><path d="M403.1 259.1L408.1 269.1L398.1 269.1Z"/><path d="M337.2 249.6L342.2 259.6L332.2 259.6Z"/><path d="M351.5 262.8L356.5 272.8L346.5 272.8Z"/><path d="M407.6 273.1L412.6 283.1L402.6 283.1Z"/><path d="M385.9 219.8L390.9 229.8L380.9 229.8Z"/><path d="M360.4 258.8L365.4 268.8L355.4 268.8Z"/><path d="M380.0 238.9L385.0 248.9L375.0 248.9Z"/><path d="M370.0 251.1L375.0 261.1L365.0 261.1Z"/><path d="M389.5 263.3L394.5 273.3L384.5 273.3Z"/><path d="M343.0 239.2L348.0 249.2L338.0 249.2Z"/><path d="M345.5 234.2L350.5 244.2L340.5 244.2Z"/><path d="M405.0 228.6L410.0 238.6L400.0 238.6Z"/><path d="M399.8 280.3L404.8 290.3L394.8 290.3Z"/><path d="M399.8 264.4L404.8 274.4L394.8 274.4Z"/><path d="M405.1 219.5L410.1 229.5L400.1 229.5Z"/><path d="M395.9 217.3L400.9 227.3L390.9 227.3Z"/><path d="M368.2 277.2L373.2 287.2L363.2 287.2Z"/><path d="M404.2 237.9L409.2 247.9L399.2 247.9Z"/><path d="M410.5 229.5L415.5 239.5L405.5 239.5Z"/><path d="M380.3 269.6L385.3 279.6L375.3 279.6Z"/><path d="M388.4 228.7L393.4 238.7L383.4 238.7Z"/><path d="M397.1 255.2L402.1 265.2L392.1 265.2Z"/><path d="M399.1 215.0L404.1 225.0L394.1 225.0Z"/><path d="M365.0 204.5L370.0 214.5L360.0 214.5Z"/><path d="M413.3 240.6L418.3 250.6L408.3 250.6Z"/><path d="M379.4 239.6L384.4 249.6L374.4 249.6Z"/><path d="M393.9 232.2L398.9 242.2L388.9 242.2Z"/><path d="M400.9 212.3L405.9 222.3L395.9 222.3Z"/><path d="M384.7 203.3L389.7 213.3L379.7 213.3Z"/><path d="M340.3 256.7L345.3 266.7L335.3 266.7Z"/><path d="M399.0 221.4L404.0 231.4L394.0 231.4Z"/><path d="M361.3 247.3L366.3 257.3L356.3 257.3Z"/><path d="M374.3 250.8L379.3 260.8L369.3 260.8Z"/><path d="M377.0 201.4L382.0 211.4L372.0 211.4Z"/><path d="M348.0 253.4L353.0 263.4L343.0 263.4Z"/><path d="M358.0 277.7L363.0 287.7L353.0 287.7Z"/><path d="M356.5 237.6L361.5 247.6L351.5 247.6Z"/><path d="M402.0 274.6L407.0 284.6L397.0 284.6Z"/><path d="M406.6 247.7L411.6 257.7L401.6 257.7Z"/><path d="M401.9 270.1L406.9 280.1L396.9 280.1Z"/><path d="M394.3 246.0L399.3 256.0L389.3 256.0Z"/><path d="M382.2 203.1L387.2 213.1L377.2 213.1Z"/><path d="M361.6 250.1L366.6 260.1L356.6 260.1Z"/><path d="M347.6 214.1L352.6 224.1L342.6 224.1Z"/><path d="M373.8 274.1L378.8 284.1L368.8 284.1Z"/><path d="M399.4 253.8L404.4 263.8L394.4 263.8Z"/><path d="M398.4 261.1L403.4 271.1L393.4 271.1Z"/><path d="M385.7 252.3L390.7 262.3L380.7 262.3Z"/><path d="M376.3 271.4L381.3 281.4L371.3 281.4Z"/><path d="M412.2 264.2L417.2 274.2L407.2 274.2Z"/><path d="M384.0 268.1L389.0 278.1L379.0 278.1Z"/><path d="M386.7 277.8L391.7 287.8L381.7 287.8Z"/><path d="M392.7 235.5L397.7 245.5L387.7 245.5Z"/><path d="M361.4 237.6L366.4 247.6L356.4 247.6Z"/><path d="M416.7 250.0L421.7 260.0L411.7 260.0Z"/><path d="M334.5 237.1L339.5 247.1L329.5 247.1Z"/><path d="M368.1 254.3L373.1 264.3L363.1 264.3Z"/><path d="M347.7 264.2L352.7 274.2L342.7 274.2Z"/><path d="M377.3 284.1L382.3 294.1L372.3 294.1Z"/><path d="M375.4 255.4L380.4 265.4L370.4 265.4Z"/><path d="M342.0 220.7L347.0 230.7L337.0 230.7Z"/><path d="M345.3 218.3L350.3 228.3L340.3 228.3Z"/><path d="M362.7 268.9L367.7 278.9L357.7 278.9Z"/><path d="M388.8 234.1L393.8 244.1L383.8 244.1Z"/><path d="M387.9 245.6L392.9 255.6L382.9 255.6Z"/><path d="M409.9 262.3L414.9 272.3L404.9 272.3Z"/><path d="M406.8 242.2L411.8 252.2L401.8 252.2Z"/><path d="M364.3 264.1L369.3 274.1L359.3 274.1Z"/><path d="M377.5 247.5L382.5 257.5L372.5 257.5Z"/><path d="M387.8 271.6L392.8 281.6L382.8 281.6Z"/><path d="M364.7 281.1L369.7 291.1L359.7 291.1Z"/><path d="M385.2 273.6L390.2 283.6L380.2 283.6Z"/><path d="M347.2 242.8L352.2 252.8L342.2 252.8Z"/><path d="M369.1 247.5L374.1 257.5L364.1 257.5Z"/><path d="M388.8 216.2L393.8 226.2L383.8 226.2Z"/><path d="M411.9 262.6L416.9 272.6L406.9 272.6Z"/><path d="M394.8 265.2L399.8 275.2L389.8 275.2Z"/><path d="M412.2 254.9L417.2 264.9L407.2 264.9Z"/><path d="M376.0 276.3L381.0 286.3L371.0 286.3Z"/><path d="M399.3 237.1L404.3 247.1L394.3 247.1Z"/><path d="M379.4 234.4L384.4 244.4L374.4 244.4Z"/><path d="M351.4 216.2L356.4 226.2L346.4 226.2Z"/><path d="M410.0 250.0L415.0 260.0L405.0 260.0Z"/><path d="M345.0 247.6L350.0 257.6L340.0 257.6Z"/><path d="M359.0 277.8L364.0 287.8L354.0 287.8Z"/><path d="M343.0 242.3L348.0 252.3L338.0 252.3Z"/><path d="M345.3 259.5L350.3 269.5L340.3 269.5Z"/><path d="M355.4 266.2L360.4 276.2L350.4 276.2Z"/><path d="M378.8 266.2L383.8 276.2L373.8 276.2Z"/><path d="M412.0 274.2L417.0 284.2L407.0 284.2Z"/><path d="M374.4 244.8L379.4 254.8L369.4 254.8Z"/><path d="M351.5 246.9L356.5 256.9L346.5 256.9Z"/><path d="M392.2 253.4L397.2 263.4L387.2 263.4Z"/><path d="M339.6 246.0L344.6 256.0L334.6 256.0Z"/><path d="M354.8 208.6L359.8 218.6L349.8 218.6Z"/><path d="M388.5 279.9L393.5 289.9L383.5 289.9Z"/><path d="M387.9 266.9L392.9 276.9L382.9 276.9Z"/><path d="M347.9 254.6L352.9 264.6L342.9 264.6Z"/><path d="M400.2 224.8L405.2 234.8L395.2 234.8Z"/><path d="M343.8 229.9L348.8 239.9L338.8 239.9Z"/><path d="M384.4 216.9L389.4 226.9L379.4 226.9Z"/><path d="M390.1 208.0L395.1 218.0L385.1 218.0Z"/><path d="M337.6 228.9L342.6 238.9L332.6 238.9Z"/><path d="M346.2 255.3L351.2 265.3L341.2 265.3Z"/><path d="M362.0 257.5L367.0 267.5L357.0 267.5Z"/><path d="M385.7 261.4L390.7 271.4L380.7 271.4Z"/><path d="M384.4 201.3L389.4 211.3L379.4 211.3Z"/><path d="M373.2 178.8L378.2 188.8L368.2 188.8Z"/><path d="M389.1 184.2L394.1 194.2L384.1 194.2Z"/><path d="M388.8 203.3L393.8 213.3L383.8 213.3Z"/><path d="M378.8 178.0L383.8 188.0L373.8 188.0Z"/><path d="M379.2 196.6L384.2 206.6L374.2 206.6Z"/><path d="M382.3 181.0L387.3 191.0L377.3 191.0Z"/><path d="M367.2 190.1L372.2 200.1L362.2 200.1Z"/><path d="M369.1 202.5L374.1 212.5L364.1 212.5Z"/><path d="M372.0 196.9L377.0 206.9L367.0 206.9Z"/><path d="M380.3 186.5L385.3 196.5L375.3 196.5Z"/><path d="M384.8 176.3L389.8 186.3L379.8 186.3Z"/><path d="M386.8 195.1L391.8 205.1L381.8 205.1Z"/><path d="M393.8 186.1L398.8 196.1L388.8 196.1Z"/><path d="M373.9 186.5L378.9 196.5L368.9 196.5Z"/><path d="M433.0 252.8L438.0 262.8L428.0 262.8Z"/><path d="M441.7 261.5L446.7 271.5L436.7 271.5Z"/><path d="M435.3 262.7L440.3 272.7L430.3 272.7Z"/><path d="M434.7 280.2L439.7 290.2L429.7 290.2Z"/><path d="M434.7 289.6L439.7 299.6L429.7 299.6Z"/><path d="M418.4 279.0L423.4 289.0L413.4 289.0Z"/><path d="M417.0 247.0L422.0 257.0L412.0 257.0Z"/><path d="M419.0 257.0L424.0 267.0L414.0 267.0Z"/><path d="M340.3 233.5L345.3 243.5L335.3 243.5Z"/><path d="M350.8 268.6L355.8 278.6L345.8 278.6Z"/></g>
<rect x="90.3" y="29.1" width="591.3" height="426.8" fill="none" stroke="#222" stroke-width="1.7"/>
<line x1="116.6" y1="1010.3" x2="116.6" y2="1016.5" stroke="#222" stroke-width="1.6"/>
<text x="116.6" y="1036.0" font-size="19.5" text-anchor="middle" fill="#111" textLength="33.6" lengthAdjust="spacingAndGlyphs">−10</text>
<line x1="224.4" y1="1010.3" x2="224.4" y2="1016.5" stroke="#222" stroke-width="1.6"/>
<text x="224.4" y="1036.0" font-size="19.5" text-anchor="middle" fill="#111" textLength="23.0" lengthAdjust="spacingAndGlyphs">−5</text>
<line x1="332.1" y1="1010.3" x2="332.1" y2="1016.5" stroke="#222" stroke-width="1.6"/>
<text x="332.1" y="1036.0" font-size="19.5" text-anchor="middle" fill="#111" textLength="10.6" lengthAdjust="spacingAndGlyphs">0</text>
<line x1="439.9" y1="1010.3" x2="439.9" y2="1016.5" stroke="#222" stroke-width="1.6"/>
<text x="439.9" y="1036.0" font-size="19.5" text-anchor="middle" fill="#111" textLength="10.6" lengthAdjust="spacingAndGlyphs">5</text>
<line x1="547.6" y1="1010.3" x2="547.6" y2="1016.5" stroke="#222" stroke-width="1.6"/>
<text x="547.6" y="1036.0" font-size="19.5" text-anchor="middle" fill="#111" textLength="19.8" lengthAdjust="spacingAndGlyphs">10</text>
<line x1="655.4" y1="1010.3" x2="655.4" y2="1016.5" stroke="#222" stroke-width="1.6"/>
<text x="655.4" y="1036.0" font-size="19.5" text-anchor="middle" fill="#111" textLength="19.8" lengthAdjust="spacingAndGlyphs">15</text>
<line x1="84.1" y1="962.6" x2="90.3" y2="962.6" stroke="#222" stroke-width="1.6"/>
<text x="77" y="968.7" font-size="19.5" text-anchor="end" fill="#111" textLength="23.0" lengthAdjust="spacingAndGlyphs">−5</text>
<line x1="84.1" y1="890.2" x2="90.3" y2="890.2" stroke="#222" stroke-width="1.6"/>
<text x="77" y="896.3" font-size="19.5" text-anchor="end" fill="#111" textLength="10.6" lengthAdjust="spacingAndGlyphs">0</text>
<line x1="84.1" y1="817.9" x2="90.3" y2="817.9" stroke="#222" stroke-width="1.6"/>
<text x="77" y="824.0" font-size="19.5" text-anchor="end" fill="#111" textLength="10.6" lengthAdjust="spacingAndGlyphs">5</text>
<line x1="84.1" y1="745.5" x2="90.3" y2="745.5" stroke="#222" stroke-width="1.6"/>
<text x="76.2" y="751.6" font-size="19.5" text-anchor="end" fill="#111" textLength="19.8" lengthAdjust="spacingAndGlyphs">10</text>
<line x1="84.1" y1="673.2" x2="90.3" y2="673.2" stroke="#222" stroke-width="1.6"/>
<text x="76.2" y="679.3" font-size="19.5" text-anchor="end" fill="#111" textLength="19.8" lengthAdjust="spacingAndGlyphs">15</text>
<line x1="84.1" y1="600.8" x2="90.3" y2="600.8" stroke="#222" stroke-width="1.6"/>
<text x="76.2" y="606.9" font-size="19.5" text-anchor="end" fill="#111" textLength="19.8" lengthAdjust="spacingAndGlyphs">20</text>
<text x="384.0" y="1067.5" font-size="29.5" text-anchor="middle" fill="#111" textLength="61.6" lengthAdjust="spacingAndGlyphs">PC 2</text>
<text transform="translate(36.1,798.0) rotate(-90)" x="0" y="0" font-size="29.5" text-anchor="middle" fill="#111" textLength="61.6" lengthAdjust="spacingAndGlyphs">PC 3</text>
<text x="-0.3" y="575.5" font-size="35.5" fill="#000" textLength="43.2" lengthAdjust="spacingAndGlyphs">(b)</text>
<g fill="#ffff00" stroke="#000" stroke-width="1.5" fill-opacity="0.8" stroke-opacity="0.8"><rect x="301.6" y="918.5" width="10.4" height="10.4"/><rect x="272.7" y="934.1" width="10.4" height="10.4"/><rect x="248.8" y="900.5" width="10.4" height="10.4"/><rect x="246.7" y="909.1" width="10.4" height="10.4"/><rect x="213.9" y="918.6" width="10.4" height="10.4"/><rect x="254.7" y="923.5" width="10.4" height="10.4"/><rect x="325.9" y="906.4" width="10.4" height="10.4"/><rect x="259.8" y="925.9" width="10.4" height="10.4"/><rect x="335.0" y="922.0" width="10.4" height="10.4"/><rect x="253.1" y="901.9" width="10.4" height="10.4"/><rect x="333.4" y="902.9" width="10.4" height="10.4"/><rect x="276.4" y="899.2" width="10.4" height="10.4"/><rect x="240.0" y="925.5" width="10.4" height="10.4"/><rect x="224.0" y="935.0" width="10.4" height="10.4"/><rect x="230.0" y="906.4" width="10.4" height="10.4"/><rect x="323.9" y="912.7" width="10.4" height="10.4"/><rect x="219.5" y="935.4" width="10.4" height="10.4"/><rect x="305.9" y="931.4" width="10.4" height="10.4"/><rect x="253.4" y="898.8" width="10.4" height="10.4"/><rect x="288.9" y="909.5" width="10.4" height="10.4"/><rect x="202.8" y="916.9" width="10.4" height="10.4"/><rect x="296.8" y="905.2" width="10.4" height="10.4"/><rect x="232.5" y="934.9" width="10.4" height="10.4"/><rect x="333.8" y="916.3" width="10.4" height="10.4"/><rect x="319.2" y="911.1" width="10.4" height="10.4"/><rect x="323.6" y="925.9" width="10.4" height="10.4"/><rect x="220.0" y="933.2" width="10.4" height="10.4"/><rect x="329.4" y="912.0" width="10.4" height="10.4"/><rect x="298.2" y="928.9" width="10.4" height="10.4"/><rect x="319.5" y="930.1" width="10.4" height="10.4"/><rect x="286.5" y="909.3" width="10.4" height="10.4"/><rect x="207.7" y="920.7" width="10.4" height="10.4"/><rect x="268.8" y="911.3" width="10.4" height="10.4"/><rect x="233.4" y="918.2" width="10.4" height="10.4"/><rect x="198.0" y="924.8" width="10.4" height="10.4"/><rect x="222.2" y="912.2" width="10.4" height="10.4"/><rect x="249.9" y="928.1" width="10.4" height="10.4"/><rect x="290.0" y="904.4" width="10.4" height="10.4"/><rect x="255.8" y="936.7" width="10.4" height="10.4"/><rect x="293.4" y="914.3" width="10.4" height="10.4"/><rect x="240.9" y="933.5" width="10.4" height="10.4"/><rect x="288.7" y="919.3" width="10.4" height="10.4"/><rect x="224.4" y="917.6" width="10.4" height="10.4"/><rect x="231.0" y="925.6" width="10.4" height="10.4"/><rect x="214.8" y="925.2" width="10.4" height="10.4"/><rect x="261.2" y="931.0" width="10.4" height="10.4"/><rect x="267.7" y="902.6" width="10.4" height="10.4"/><rect x="273.4" y="911.5" width="10.4" height="10.4"/><rect x="227.1" y="936.2" width="10.4" height="10.4"/><rect x="249.6" y="911.7" width="10.4" height="10.4"/><rect x="243.4" y="907.0" width="10.4" height="10.4"/><rect x="263.4" y="909.3" width="10.4" height="10.4"/><rect x="306.1" y="907.5" width="10.4" height="10.4"/><rect x="321.3" y="904.1" width="10.4" height="10.4"/><rect x="329.8" y="918.6" width="10.4" height="10.4"/><rect x="315.7" y="930.9" width="10.4" height="10.4"/><rect x="283.7" y="921.0" width="10.4" height="10.4"/><rect x="233.3" y="937.2" width="10.4" height="10.4"/><rect x="266.2" y="920.7" width="10.4" height="10.4"/><rect x="271.4" y="927.1" width="10.4" height="10.4"/><rect x="202.1" y="907.6" width="10.4" height="10.4"/><rect x="223.6" y="901.6" width="10.4" height="10.4"/><rect x="254.6" y="915.2" width="10.4" height="10.4"/><rect x="276.9" y="936.0" width="10.4" height="10.4"/><rect x="279.1" y="925.6" width="10.4" height="10.4"/><rect x="210.0" y="902.9" width="10.4" height="10.4"/><rect x="243.4" y="898.4" width="10.4" height="10.4"/><rect x="289.9" y="923.0" width="10.4" height="10.4"/><rect x="326.3" y="932.4" width="10.4" height="10.4"/><rect x="317.4" y="921.4" width="10.4" height="10.4"/><rect x="253.7" y="934.3" width="10.4" height="10.4"/><rect x="302.1" y="902.6" width="10.4" height="10.4"/><rect x="231.1" y="909.6" width="10.4" height="10.4"/><rect x="277.1" y="905.8" width="10.4" height="10.4"/><rect x="299.8" y="911.4" width="10.4" height="10.4"/><rect x="250.3" y="917.2" width="10.4" height="10.4"/><rect x="290.9" y="931.0" width="10.4" height="10.4"/><rect x="275.6" y="902.9" width="10.4" height="10.4"/><rect x="205.9" y="924.6" width="10.4" height="10.4"/><rect x="258.5" y="936.4" width="10.4" height="10.4"/><rect x="214.7" y="909.7" width="10.4" height="10.4"/><rect x="310.8" y="927.3" width="10.4" height="10.4"/><rect x="236.3" y="898.2" width="10.4" height="10.4"/><rect x="287.4" y="928.1" width="10.4" height="10.4"/><rect x="238.6" y="910.8" width="10.4" height="10.4"/><rect x="219.8" y="901.2" width="10.4" height="10.4"/><rect x="315.6" y="917.4" width="10.4" height="10.4"/><rect x="275.1" y="919.7" width="10.4" height="10.4"/><rect x="241.6" y="915.8" width="10.4" height="10.4"/><rect x="323.4" y="915.4" width="10.4" height="10.4"/><rect x="210.5" y="932.6" width="10.4" height="10.4"/><rect x="299.1" y="924.4" width="10.4" height="10.4"/><rect x="220.9" y="927.0" width="10.4" height="10.4"/><rect x="278.4" y="930.3" width="10.4" height="10.4"/><rect x="247.1" y="924.8" width="10.4" height="10.4"/><rect x="111.3" y="906.3" width="10.4" height="10.4"/><rect x="127.0" y="973.2" width="10.4" height="10.4"/><rect x="145.6" y="966.2" width="10.4" height="10.4"/><rect x="145.6" y="953.6" width="10.4" height="10.4"/><rect x="138.6" y="938.2" width="10.4" height="10.4"/><rect x="149.1" y="938.2" width="10.4" height="10.4"/><rect x="159.6" y="938.9" width="10.4" height="10.4"/><rect x="164.9" y="943.1" width="10.4" height="10.4"/><rect x="157.2" y="949.4" width="10.4" height="10.4"/><rect x="168.4" y="955.7" width="10.4" height="10.4"/><rect x="184.1" y="955.7" width="10.4" height="10.4"/><rect x="171.2" y="938.9" width="10.4" height="10.4"/><rect x="180.6" y="931.9" width="10.4" height="10.4"/><rect x="184.1" y="912.6" width="10.4" height="10.4"/><rect x="187.6" y="913.7" width="10.4" height="10.4"/><rect x="191.2" y="926.6" width="10.4" height="10.4"/><rect x="199.2" y="926.6" width="10.4" height="10.4"/><rect x="198.2" y="936.1" width="10.4" height="10.4"/><rect x="208.7" y="940.6" width="10.4" height="10.4"/><rect x="191.2" y="868.8" width="10.4" height="10.4"/><rect x="224.4" y="868.8" width="10.4" height="10.4"/><rect x="199.2" y="891.6" width="10.4" height="10.4"/><rect x="256.0" y="949.4" width="10.4" height="10.4"/><rect x="263.0" y="938.9" width="10.4" height="10.4"/><rect x="296.3" y="943.1" width="10.4" height="10.4"/><rect x="245.5" y="938.9" width="10.4" height="10.4"/><rect x="220.9" y="937.1" width="10.4" height="10.4"/><rect x="227.9" y="937.1" width="10.4" height="10.4"/><rect x="284.0" y="933.6" width="10.4" height="10.4"/><rect x="303.3" y="933.6" width="10.4" height="10.4"/><rect x="405.7" y="937.8" width="10.4" height="10.4"/></g>
<g fill="#ff0000" stroke="#000" stroke-width="1.5" fill-opacity="0.8" stroke-opacity="0.8"><path d="M381.6 598.7L388.8 605.9L381.6 613.1L374.4 605.9Z"/><path d="M298.4 681.5L305.6 688.7L298.4 695.9L291.2 688.7Z"/><path d="M381.6 690.1L388.8 697.3L381.6 704.5L374.4 697.3Z"/><path d="M376.1 699.7L383.3 706.9L376.1 714.1L368.9 706.9Z"/><path d="M319.9 721.8L327.1 729.0L319.9 736.2L312.7 729.0Z"/><path d="M329.1 722.8L336.3 730.0L329.1 737.2L321.9 730.0Z"/><path d="M339.3 723.8L346.5 731.0L339.3 738.2L332.1 731.0Z"/><path d="M375.8 703.7L383.0 710.9L375.8 718.1L368.6 710.9Z"/><path d="M326.8 732.6L334.0 739.8L326.8 747.0L319.6 739.8Z"/><path d="M339.9 729.1L347.1 736.3L339.9 743.5L332.7 736.3Z"/><path d="M333.8 740.5L341.0 747.7L333.8 754.9L326.6 747.7Z"/><path d="M330.3 737.0L337.5 744.2L330.3 751.4L323.1 744.2Z"/><path d="M353.4 739.9L360.6 747.1L353.4 754.3L346.2 747.1Z"/><path d="M344.3 764.1L351.5 771.3L344.3 778.5L337.1 771.3Z"/><path d="M367.6 762.4L374.8 769.6L367.6 776.8L360.4 769.6Z"/><path d="M335.2 782.0L342.4 789.2L335.2 796.4L328.0 789.2Z"/><path d="M350.4 781.6L357.6 788.8L350.4 796.0L343.2 788.8Z"/><path d="M360.1 778.1L367.3 785.3L360.1 792.5L352.9 785.3Z"/><path d="M369.7 776.4L376.9 783.6L369.7 790.8L362.5 783.6Z"/><path d="M381.1 788.6L388.3 795.8L381.1 803.0L373.9 795.8Z"/><path d="M341.7 793.0L348.9 800.2L341.7 807.4L334.5 800.2Z"/><path d="M351.3 793.9L358.5 801.1L351.3 808.3L344.1 801.1Z"/><path d="M358.3 798.3L365.5 805.5L358.3 812.7L351.1 805.5Z"/><path d="M369.7 797.4L376.9 804.6L369.7 811.8L362.5 804.6Z"/><path d="M377.6 793.9L384.8 801.1L377.6 808.3L370.4 801.1Z"/><path d="M355.0 797.5L362.2 804.7L355.0 811.9L347.8 804.7Z"/><path d="M362.3 850.1L369.5 857.3L362.3 864.5L355.1 857.3Z"/><path d="M345.6 824.1L352.8 831.3L345.6 838.5L338.4 831.3Z"/><path d="M361.7 870.2L368.9 877.4L361.7 884.6L354.5 877.4Z"/><path d="M371.0 802.4L378.2 809.6L371.0 816.8L363.8 809.6Z"/><path d="M346.4 854.7L353.6 861.9L346.4 869.1L339.2 861.9Z"/><path d="M358.5 841.8L365.7 849.0L358.5 856.2L351.3 849.0Z"/><path d="M389.5 859.3L396.7 866.5L389.5 873.7L382.3 866.5Z"/><path d="M350.8 879.0L358.0 886.2L350.8 893.4L343.6 886.2Z"/><path d="M355.9 826.5L363.1 833.7L355.9 840.9L348.7 833.7Z"/><path d="M344.7 843.2L351.9 850.4L344.7 857.6L337.5 850.4Z"/><path d="M351.5 802.6L358.7 809.8L351.5 817.0L344.3 809.8Z"/><path d="M363.5 802.9L370.7 810.1L363.5 817.3L356.3 810.1Z"/><path d="M339.8 839.6L347.0 846.8L339.8 854.0L332.6 846.8Z"/><path d="M389.5 850.8L396.7 858.0L389.5 865.2L382.3 858.0Z"/><path d="M372.1 807.8L379.3 815.0L372.1 822.2L364.9 815.0Z"/><path d="M344.5 849.5L351.7 856.7L344.5 863.9L337.3 856.7Z"/><path d="M334.7 845.9L341.9 853.1L334.7 860.3L327.5 853.1Z"/><path d="M374.9 876.4L382.1 883.6L374.9 890.8L367.7 883.6Z"/><path d="M375.2 797.2L382.4 804.4L375.2 811.6L368.0 804.4Z"/><path d="M382.7 822.2L389.9 829.4L382.7 836.6L375.5 829.4Z"/><path d="M358.6 835.4L365.8 842.6L358.6 849.8L351.4 842.6Z"/><path d="M370.3 819.5L377.5 826.7L370.3 833.9L363.1 826.7Z"/><path d="M361.1 823.9L368.3 831.1L361.1 838.3L353.9 831.1Z"/><path d="M333.6 833.0L340.8 840.2L333.6 847.4L326.4 840.2Z"/><path d="M388.6 878.9L395.8 886.1L388.6 893.3L381.4 886.1Z"/><path d="M331.1 820.8L338.3 828.0L331.1 835.2L323.9 828.0Z"/><path d="M364.2 855.7L371.4 862.9L364.2 870.1L357.0 862.9Z"/><path d="M335.7 840.0L342.9 847.2L335.7 854.4L328.5 847.2Z"/><path d="M362.7 874.2L369.9 881.4L362.7 888.6L355.5 881.4Z"/><path d="M344.6 876.1L351.8 883.3L344.6 890.5L337.4 883.3Z"/><path d="M348.4 835.4L355.6 842.6L348.4 849.8L341.2 842.6Z"/><path d="M365.4 827.2L372.6 834.4L365.4 841.6L358.2 834.4Z"/><path d="M368.3 861.6L375.5 868.8L368.3 876.0L361.1 868.8Z"/><path d="M367.7 826.4L374.9 833.6L367.7 840.8L360.5 833.6Z"/><path d="M389.1 813.5L396.3 820.7L389.1 827.9L381.9 820.7Z"/><path d="M369.9 841.0L377.1 848.2L369.9 855.4L362.7 848.2Z"/><path d="M365.3 877.7L372.5 884.9L365.3 892.1L358.1 884.9Z"/><path d="M383.0 877.4L390.2 884.6L383.0 891.8L375.8 884.6Z"/><path d="M343.4 805.7L350.6 812.9L343.4 820.1L336.2 812.9Z"/><path d="M383.0 796.0L390.2 803.2L383.0 810.4L375.8 803.2Z"/><path d="M349.9 861.7L357.1 868.9L349.9 876.1L342.7 868.9Z"/><path d="M391.4 830.0L398.6 837.2L391.4 844.4L384.2 837.2Z"/><path d="M352.2 813.2L359.4 820.4L352.2 827.6L345.0 820.4Z"/><path d="M381.3 802.0L388.5 809.2L381.3 816.4L374.1 809.2Z"/><path d="M354.3 848.8L361.5 856.0L354.3 863.2L347.1 856.0Z"/><path d="M343.4 810.6L350.6 817.8L343.4 825.0L336.2 817.8Z"/><path d="M371.0 794.5L378.2 801.7L371.0 808.9L363.8 801.7Z"/><path d="M351.3 845.8L358.5 853.0L351.3 860.2L344.1 853.0Z"/><path d="M338.4 867.3L345.6 874.5L338.4 881.7L331.2 874.5Z"/><path d="M346.4 850.9L353.6 858.1L346.4 865.3L339.2 858.1Z"/><path d="M378.5 852.4L385.7 859.6L378.5 866.8L371.3 859.6Z"/><path d="M347.5 822.7L354.7 829.9L347.5 837.1L340.3 829.9Z"/><path d="M390.3 860.4L397.5 867.6L390.3 874.8L383.1 867.6Z"/><path d="M358.5 873.9L365.7 881.1L358.5 888.3L351.3 881.1Z"/><path d="M362.3 863.9L369.5 871.1L362.3 878.3L355.1 871.1Z"/><path d="M335.3 859.9L342.5 867.1L335.3 874.3L328.1 867.1Z"/><path d="M378.6 863.8L385.8 871.0L378.6 878.2L371.4 871.0Z"/><path d="M382.3 810.7L389.5 817.9L382.3 825.1L375.1 817.9Z"/><path d="M385.2 817.6L392.4 824.8L385.2 832.0L378.0 824.8Z"/><path d="M356.8 862.7L364.0 869.9L356.8 877.1L349.6 869.9Z"/><path d="M381.6 861.4L388.8 868.6L381.6 875.8L374.4 868.6Z"/><path d="M341.8 833.7L349.0 840.9L341.8 848.1L334.6 840.9Z"/><path d="M382.8 849.8L390.0 857.0L382.8 864.2L375.6 857.0Z"/><path d="M381.0 829.2L388.2 836.4L381.0 843.6L373.8 836.4Z"/><path d="M376.9 835.3L384.1 842.5L376.9 849.7L369.7 842.5Z"/><path d="M333.8 853.1L341.0 860.3L333.8 867.5L326.6 860.3Z"/><path d="M345.2 864.7L352.4 871.9L345.2 879.1L338.0 871.9Z"/><path d="M357.9 796.0L365.1 803.2L357.9 810.4L350.7 803.2Z"/><path d="M340.0 842.0L347.2 849.2L340.0 856.4L332.8 849.2Z"/><path d="M355.4 823.9L362.6 831.1L355.4 838.3L348.2 831.1Z"/><path d="M344.1 866.5L351.3 873.7L344.1 880.9L336.9 873.7Z"/><path d="M388.3 806.5L395.5 813.7L388.3 820.9L381.1 813.7Z"/><path d="M368.1 820.6L375.3 827.8L368.1 835.0L360.9 827.8Z"/><path d="M365.9 832.4L373.1 839.6L365.9 846.8L358.7 839.6Z"/><path d="M362.5 881.0L369.7 888.2L362.5 895.4L355.3 888.2Z"/><path d="M337.8 828.4L345.0 835.6L337.8 842.8L330.6 835.6Z"/><path d="M371.6 868.0L378.8 875.2L371.6 882.4L364.4 875.2Z"/><path d="M352.5 793.1L359.7 800.3L352.5 807.5L345.3 800.3Z"/><path d="M389.4 847.2L396.6 854.4L389.4 861.6L382.2 854.4Z"/><path d="M382.4 870.1L389.6 877.3L382.4 884.5L375.2 877.3Z"/><path d="M375.7 804.5L382.9 811.7L375.7 818.9L368.5 811.7Z"/><path d="M336.1 803.8L343.3 811.0L336.1 818.2L328.9 811.0Z"/><path d="M373.9 812.4L381.1 819.6L373.9 826.8L366.7 819.6Z"/><path d="M384.7 831.3L391.9 838.5L384.7 845.7L377.5 838.5Z"/><path d="M351.8 874.0L359.0 881.2L351.8 888.4L344.6 881.2Z"/><path d="M347.5 795.1L354.7 802.3L347.5 809.5L340.3 802.3Z"/><path d="M336.4 874.7L343.6 881.9L336.4 889.1L329.2 881.9Z"/><path d="M370.4 871.4L377.6 878.6L370.4 885.8L363.2 878.6Z"/><path d="M371.5 834.7L378.7 841.9L371.5 849.1L364.3 841.9Z"/><path d="M380.5 876.6L387.7 883.8L380.5 891.0L373.3 883.8Z"/><path d="M353.1 794.3L360.3 801.5L353.1 808.7L345.9 801.5Z"/><path d="M339.9 819.8L347.1 827.0L339.9 834.2L332.7 827.0Z"/><path d="M375.2 792.3L382.4 799.5L375.2 806.7L368.0 799.5Z"/><path d="M353.2 857.1L360.4 864.3L353.2 871.5L346.0 864.3Z"/><path d="M372.8 845.1L380.0 852.3L372.8 859.5L365.6 852.3Z"/><path d="M363.7 844.3L370.9 851.5L363.7 858.7L356.5 851.5Z"/><path d="M367.8 868.8L375.0 876.0L367.8 883.2L360.6 876.0Z"/><path d="M341.7 855.7L348.9 862.9L341.7 870.1L334.5 862.9Z"/><path d="M387.8 839.7L395.0 846.9L387.8 854.1L380.6 846.9Z"/><path d="M383.8 799.7L391.0 806.9L383.8 814.1L376.6 806.9Z"/><path d="M382.6 857.8L389.8 865.0L382.6 872.2L375.4 865.0Z"/><path d="M352.7 831.3L359.9 838.5L352.7 845.7L345.5 838.5Z"/><path d="M371.3 851.9L378.5 859.1L371.3 866.3L364.1 859.1Z"/><path d="M360.7 856.3L367.9 863.5L360.7 870.7L353.5 863.5Z"/><path d="M392.2 832.6L399.4 839.8L392.2 847.0L385.0 839.8Z"/><path d="M388.3 870.7L395.5 877.9L388.3 885.1L381.1 877.9Z"/><path d="M355.7 801.4L362.9 808.6L355.7 815.8L348.5 808.6Z"/><path d="M344.2 879.5L351.4 886.7L344.2 893.9L337.0 886.7Z"/><path d="M377.8 836.4L385.0 843.6L377.8 850.8L370.6 843.6Z"/><path d="M375.4 882.8L382.6 890.0L375.4 897.2L368.2 890.0Z"/><path d="M382.3 841.5L389.5 848.7L382.3 855.9L375.1 848.7Z"/><path d="M359.1 839.5L366.3 846.7L359.1 853.9L351.9 846.7Z"/><path d="M344.8 816.8L352.0 824.0L344.8 831.2L337.6 824.0Z"/><path d="M362.9 837.1L370.1 844.3L362.9 851.5L355.7 844.3Z"/><path d="M349.9 836.3L357.1 843.5L349.9 850.7L342.7 843.5Z"/><path d="M371.8 854.7L379.0 861.9L371.8 869.1L364.6 861.9Z"/><path d="M353.2 868.6L360.4 875.8L353.2 883.0L346.0 875.8Z"/><path d="M354.0 807.9L361.2 815.1L354.0 822.3L346.8 815.1Z"/><path d="M378.9 846.6L386.1 853.8L378.9 861.0L371.7 853.8Z"/><path d="M376.0 825.8L383.2 833.0L376.0 840.2L368.8 833.0Z"/><path d="M363.8 799.8L371.0 807.0L363.8 814.2L356.6 807.0Z"/><path d="M338.9 808.9L346.1 816.1L338.9 823.3L331.7 816.1Z"/><path d="M336.5 813.8L343.7 821.0L336.5 828.2L329.3 821.0Z"/><path d="M338.5 881.8L345.7 889.0L338.5 896.2L331.3 889.0Z"/><path d="M349.0 827.9L356.2 835.1L349.0 842.3L341.8 835.1Z"/><path d="M388.7 818.5L395.9 825.7L388.7 832.9L381.5 825.7Z"/><path d="M320.3 878.1L327.5 885.3L320.3 892.5L313.1 885.3Z"/><path d="M335.7 891.3L342.9 898.5L335.7 905.7L328.5 898.5Z"/><path d="M328.9 874.2L336.1 881.4L328.9 888.6L321.7 881.4Z"/><path d="M349.9 891.4L357.1 898.6L349.9 905.8L342.7 898.6Z"/><path d="M322.3 882.8L329.5 890.0L322.3 897.2L315.1 890.0Z"/><path d="M336.0 896.2L343.2 903.4L336.0 910.6L328.8 903.4Z"/><path d="M348.5 896.6L355.7 903.8L348.5 911.0L341.3 903.8Z"/><path d="M343.9 881.3L351.1 888.5L343.9 895.7L336.7 888.5Z"/><path d="M369.6 889.6L376.8 896.8L369.6 904.0L362.4 896.8Z"/><path d="M361.0 887.3L368.2 894.5L361.0 901.7L353.8 894.5Z"/><path d="M355.2 877.6L362.4 884.8L355.2 892.0L348.0 884.8Z"/><path d="M337.5 871.9L344.7 879.1L337.5 886.3L330.3 879.1Z"/><path d="M352.8 893.4L360.0 900.6L352.8 907.8L345.6 900.6Z"/><path d="M357.4 891.4L364.6 898.6L357.4 905.8L350.2 898.6Z"/><path d="M364.0 883.7L371.2 890.9L364.0 898.1L356.8 890.9Z"/><path d="M326.4 894.8L333.6 902.0L326.4 909.2L319.2 902.0Z"/><path d="M343.7 887.4L350.9 894.6L343.7 901.8L336.5 894.6Z"/><path d="M361.0 892.9L368.2 900.1L361.0 907.3L353.8 900.1Z"/><path d="M362.6 878.9L369.8 886.1L362.6 893.3L355.4 886.1Z"/><path d="M330.3 890.2L337.5 897.4L330.3 904.6L323.1 897.4Z"/><path d="M367.6 879.9L374.8 887.1L367.6 894.3L360.4 887.1Z"/><path d="M334.5 882.0L341.7 889.2L334.5 896.4L327.3 889.2Z"/><path d="M339.5 876.8L346.7 884.0L339.5 891.2L332.3 884.0Z"/><path d="M323.3 889.4L330.5 896.6L323.3 903.8L316.1 896.6Z"/><path d="M333.2 878.1L340.4 885.3L333.2 892.5L326.0 885.3Z"/><path d="M347.0 878.0L354.2 885.2L347.0 892.4L339.8 885.2Z"/><path d="M319.3 879.8L326.5 887.0L319.3 894.2L312.1 887.0Z"/><path d="M354.7 883.5L361.9 890.7L354.7 897.9L347.5 890.7Z"/><path d="M362.4 884.9L369.6 892.1L362.4 899.3L355.2 892.1Z"/><path d="M335.9 884.8L343.1 892.0L335.9 899.2L328.7 892.0Z"/><path d="M412.3 896.4L419.5 903.6L412.3 910.8L405.1 903.6Z"/><path d="M392.8 878.5L400.0 885.7L392.8 892.9L385.6 885.7Z"/></g>
<g fill="#0000ff" stroke="#000" stroke-width="1.5" fill-opacity="0.8" stroke-opacity="0.8"><circle cx="321.1" cy="869.2" r="5.6"/><circle cx="307.2" cy="884.5" r="5.6"/><circle cx="319.8" cy="860.9" r="5.6"/><circle cx="283.5" cy="882.3" r="5.6"/><circle cx="314.3" cy="897.2" r="5.6"/><circle cx="282.7" cy="877.6" r="5.6"/><circle cx="315.7" cy="881.4" r="5.6"/><circle cx="301.1" cy="857.0" r="5.6"/><circle cx="275.9" cy="863.0" r="5.6"/><circle cx="287.4" cy="888.1" r="5.6"/><circle cx="295.9" cy="884.0" r="5.6"/><circle cx="321.8" cy="897.4" r="5.6"/><circle cx="294.8" cy="852.2" r="5.6"/><circle cx="295.0" cy="877.4" r="5.6"/><circle cx="288.9" cy="855.1" r="5.6"/><circle cx="327.5" cy="869.6" r="5.6"/><circle cx="274.7" cy="877.6" r="5.6"/><circle cx="272.9" cy="877.0" r="5.6"/><circle cx="293.9" cy="859.3" r="5.6"/><circle cx="313.8" cy="862.7" r="5.6"/><circle cx="334.5" cy="857.0" r="5.6"/><circle cx="347.4" cy="866.7" r="5.6"/><circle cx="340.4" cy="886.3" r="5.6"/><circle cx="332.8" cy="874.0" r="5.6"/><circle cx="319.1" cy="853.7" r="5.6"/><circle cx="305.7" cy="894.0" r="5.6"/><circle cx="273.2" cy="863.4" r="5.6"/><circle cx="338.3" cy="861.5" r="5.6"/><circle cx="269.3" cy="861.1" r="5.6"/><circle cx="263.7" cy="870.0" r="5.6"/><circle cx="296.5" cy="861.6" r="5.6"/><circle cx="331.1" cy="885.7" r="5.6"/><circle cx="325.3" cy="875.3" r="5.6"/><circle cx="285.9" cy="880.9" r="5.6"/><circle cx="309.7" cy="853.1" r="5.6"/><circle cx="311.3" cy="850.4" r="5.6"/><circle cx="277.7" cy="893.8" r="5.6"/><circle cx="328.3" cy="892.6" r="5.6"/><circle cx="282.9" cy="857.8" r="5.6"/><circle cx="299.7" cy="853.0" r="5.6"/><circle cx="290.9" cy="875.5" r="5.6"/><circle cx="302.6" cy="873.1" r="5.6"/><circle cx="305.2" cy="888.4" r="5.6"/><circle cx="273.6" cy="891.0" r="5.6"/><circle cx="288.5" cy="860.3" r="5.6"/><circle cx="265.6" cy="865.1" r="5.6"/><circle cx="316.6" cy="886.9" r="5.6"/><circle cx="308.5" cy="868.9" r="5.6"/><circle cx="264.2" cy="880.3" r="5.6"/><circle cx="342.6" cy="872.2" r="5.6"/><circle cx="268.2" cy="879.6" r="5.6"/><circle cx="274.2" cy="858.5" r="5.6"/><circle cx="351.1" cy="875.6" r="5.6"/><circle cx="322.2" cy="877.7" r="5.6"/><circle cx="328.0" cy="881.9" r="5.6"/><circle cx="321.0" cy="866.2" r="5.6"/><circle cx="267.3" cy="888.0" r="5.6"/><circle cx="312.9" cy="898.2" r="5.6"/><circle cx="283.4" cy="894.9" r="5.6"/><circle cx="329.4" cy="865.9" r="5.6"/><circle cx="341.4" cy="877.5" r="5.6"/><circle cx="323.8" cy="861.3" r="5.6"/><circle cx="282.1" cy="870.5" r="5.6"/><circle cx="281.3" cy="889.8" r="5.6"/><circle cx="285.8" cy="868.7" r="5.6"/><circle cx="290.5" cy="866.4" r="5.6"/><circle cx="318.6" cy="891.6" r="5.6"/><circle cx="335.3" cy="879.5" r="5.6"/><circle cx="347.4" cy="880.7" r="5.6"/><circle cx="343.2" cy="884.7" r="5.6"/><circle cx="323.9" cy="887.6" r="5.6"/><circle cx="310.6" cy="863.3" r="5.6"/><circle cx="300.5" cy="878.2" r="5.6"/><circle cx="276.8" cy="885.4" r="5.6"/><circle cx="276.6" cy="875.4" r="5.6"/><circle cx="307.3" cy="877.4" r="5.6"/><circle cx="309.4" cy="874.7" r="5.6"/><circle cx="307.5" cy="860.8" r="5.6"/><circle cx="274.1" cy="867.2" r="5.6"/><circle cx="283.0" cy="862.2" r="5.6"/><circle cx="326.5" cy="865.1" r="5.6"/><circle cx="331.3" cy="893.3" r="5.6"/><circle cx="323.4" cy="852.4" r="5.6"/><circle cx="318.1" cy="867.7" r="5.6"/><circle cx="327.5" cy="895.2" r="5.6"/><circle cx="317.7" cy="887.1" r="5.6"/><circle cx="293.6" cy="873.7" r="5.6"/><circle cx="301.6" cy="888.3" r="5.6"/><circle cx="300.1" cy="866.3" r="5.6"/><circle cx="295.0" cy="867.4" r="5.6"/><circle cx="342.8" cy="867.9" r="5.6"/><circle cx="302.4" cy="867.6" r="5.6"/><circle cx="314.7" cy="851.4" r="5.6"/><circle cx="339.3" cy="860.7" r="5.6"/><circle cx="308.7" cy="892.6" r="5.6"/><circle cx="291.3" cy="890.6" r="5.6"/><circle cx="334.7" cy="867.9" r="5.6"/><circle cx="268.1" cy="872.7" r="5.6"/><circle cx="343.2" cy="865.3" r="5.6"/><circle cx="296.9" cy="871.6" r="5.6"/><circle cx="274.4" cy="884.7" r="5.6"/><circle cx="327.2" cy="857.7" r="5.6"/><circle cx="303.7" cy="884.0" r="5.6"/><circle cx="284.2" cy="855.8" r="5.6"/><circle cx="271.2" cy="871.4" r="5.6"/><circle cx="326.6" cy="882.8" r="5.6"/><circle cx="339.0" cy="872.0" r="5.6"/><circle cx="313.7" cy="878.4" r="5.6"/><circle cx="281.7" cy="876.7" r="5.6"/><circle cx="320.9" cy="873.0" r="5.6"/><circle cx="292.5" cy="883.9" r="5.6"/><circle cx="334.9" cy="891.1" r="5.6"/><circle cx="322.1" cy="850.2" r="5.6"/><circle cx="302.7" cy="893.5" r="5.6"/><circle cx="312.5" cy="876.4" r="5.6"/><circle cx="310.2" cy="856.1" r="5.6"/><circle cx="230.2" cy="849.7" r="5.6"/><circle cx="231.5" cy="855.0" r="5.6"/><circle cx="247.3" cy="853.1" r="5.6"/><circle cx="253.9" cy="853.6" r="5.6"/><circle cx="267.0" cy="848.9" r="5.6"/><circle cx="276.2" cy="852.3" r="5.6"/><circle cx="289.9" cy="841.8" r="5.6"/><circle cx="298.5" cy="847.9" r="5.6"/><circle cx="318.2" cy="845.8" r="5.6"/><circle cx="238.9" cy="866.3" r="5.6"/><circle cx="243.4" cy="873.4" r="5.6"/><circle cx="255.2" cy="866.8" r="5.6"/><circle cx="261.8" cy="870.7" r="5.6"/><circle cx="204.7" cy="882.6" r="5.6"/><circle cx="236.8" cy="894.4" r="5.6"/><circle cx="248.6" cy="891.8" r="5.6"/><circle cx="257.8" cy="891.8" r="5.6"/><circle cx="272.3" cy="898.3" r="5.6"/><circle cx="294.6" cy="908.8" r="5.6"/><circle cx="360.8" cy="870.7" r="5.6"/><circle cx="341.9" cy="862.8" r="5.6"/><circle cx="245.4" cy="919.6" r="5.6"/></g>
<g fill="#ffa500" stroke="#000" stroke-width="1.5" fill-opacity="0.8" stroke-opacity="0.8"><path d="M339.4 905.3L344.4 915.3L334.4 915.3Z"/><path d="M355.0 931.2L360.0 941.2L350.0 941.2Z"/><path d="M341.9 879.5L346.9 889.5L336.9 889.5Z"/><path d="M393.2 945.3L398.2 955.3L388.2 955.3Z"/><path d="M391.1 884.2L396.1 894.2L386.1 894.2Z"/><path d="M336.0 905.2L341.0 915.2L331.0 915.2Z"/><path d="M355.2 897.7L360.2 907.7L350.2 907.7Z"/><path d="M355.4 913.0L360.4 923.0L350.4 923.0Z"/><path d="M376.6 918.2L381.6 928.2L371.6 928.2Z"/><path d="M386.6 905.8L391.6 915.8L381.6 915.8Z"/><path d="M367.5 939.4L372.5 949.4L362.5 949.4Z"/><path d="M339.3 903.5L344.3 913.5L334.3 913.5Z"/><path d="M348.8 936.0L353.8 946.0L343.8 946.0Z"/><path d="M375.6 934.3L380.6 944.3L370.6 944.3Z"/><path d="M350.4 932.2L355.4 942.2L345.4 942.2Z"/><path d="M364.0 917.7L369.0 927.7L359.0 927.7Z"/><path d="M341.1 884.9L346.1 894.9L336.1 894.9Z"/><path d="M383.7 931.9L388.7 941.9L378.7 941.9Z"/><path d="M337.7 918.8L342.7 928.8L332.7 928.8Z"/><path d="M375.8 905.6L380.8 915.6L370.8 915.6Z"/><path d="M392.0 900.1L397.0 910.1L387.0 910.1Z"/><path d="M338.1 882.1L343.1 892.1L333.1 892.1Z"/><path d="M351.1 886.0L356.1 896.0L346.1 896.0Z"/><path d="M373.7 919.0L378.7 929.0L368.7 929.0Z"/><path d="M373.0 940.5L378.0 950.5L368.0 950.5Z"/><path d="M388.8 924.6L393.8 934.6L383.8 934.6Z"/><path d="M347.6 919.5L352.6 929.5L342.6 929.5Z"/><path d="M397.0 888.0L402.0 898.0L392.0 898.0Z"/><path d="M358.2 936.0L363.2 946.0L353.2 946.0Z"/><path d="M376.5 900.9L381.5 910.9L371.5 910.9Z"/><path d="M346.6 896.9L351.6 906.9L341.6 906.9Z"/><path d="M360.7 886.1L365.7 896.1L355.7 896.1Z"/><path d="M381.7 901.8L386.7 911.8L376.7 911.8Z"/><path d="M364.2 944.6L369.2 954.6L359.2 954.6Z"/><path d="M364.8 931.4L369.8 941.4L359.8 941.4Z"/><path d="M344.0 923.5L349.0 933.5L339.0 933.5Z"/><path d="M380.2 885.6L385.2 895.6L375.2 895.6Z"/><path d="M396.0 913.3L401.0 923.3L391.0 923.3Z"/><path d="M390.3 915.8L395.3 925.8L385.3 925.8Z"/><path d="M391.5 893.0L396.5 903.0L386.5 903.0Z"/><path d="M346.1 887.1L351.1 897.1L341.1 897.1Z"/><path d="M368.7 884.4L373.7 894.4L363.7 894.4Z"/><path d="M360.8 928.7L365.8 938.7L355.8 938.7Z"/><path d="M344.9 902.6L349.9 912.6L339.9 912.6Z"/><path d="M354.3 889.6L359.3 899.6L349.3 899.6Z"/><path d="M351.0 925.6L356.0 935.6L346.0 935.6Z"/><path d="M381.0 948.2L386.0 958.2L376.0 958.2Z"/><path d="M366.2 928.5L371.2 938.5L361.2 938.5Z"/><path d="M390.8 919.0L395.8 929.0L385.8 929.0Z"/><path d="M326.1 918.3L331.1 928.3L321.1 928.3Z"/><path d="M381.3 937.7L386.3 947.7L376.3 947.7Z"/><path d="M345.4 911.4L350.4 921.4L340.4 921.4Z"/><path d="M331.6 914.4L336.6 924.4L326.6 924.4Z"/><path d="M364.4 901.7L369.4 911.7L359.4 911.7Z"/><path d="M336.3 930.1L341.3 940.1L331.3 940.1Z"/><path d="M373.1 887.6L378.1 897.6L368.1 897.6Z"/><path d="M376.4 947.3L381.4 957.3L371.4 957.3Z"/><path d="M354.6 944.8L359.6 954.8L349.6 954.8Z"/><path d="M390.6 909.1L395.6 919.1L385.6 919.1Z"/><path d="M372.1 923.1L377.1 933.1L367.1 933.1Z"/><path d="M358.5 887.7L363.5 897.7L353.5 897.7Z"/><path d="M350.7 904.5L355.7 914.5L345.7 914.5Z"/><path d="M365.3 948.4L370.3 958.4L360.3 958.4Z"/><path d="M378.1 898.5L383.1 908.5L373.1 908.5Z"/><path d="M388.8 938.1L393.8 948.1L383.8 948.1Z"/><path d="M382.0 927.8L387.0 937.8L377.0 937.8Z"/><path d="M386.0 948.0L391.0 958.0L381.0 958.0Z"/><path d="M399.1 893.4L404.1 903.4L394.1 903.4Z"/><path d="M395.1 928.3L400.1 938.3L390.1 938.3Z"/><path d="M354.3 936.6L359.3 946.6L349.3 946.6Z"/><path d="M382.9 916.7L387.9 926.7L377.9 926.7Z"/><path d="M340.5 932.4L345.5 942.4L335.5 942.4Z"/><path d="M344.3 919.0L349.3 929.0L339.3 929.0Z"/><path d="M385.0 884.9L390.0 894.9L380.0 894.9Z"/><path d="M330.2 925.8L335.2 935.8L325.2 935.8Z"/><path d="M340.8 911.0L345.8 921.0L335.8 921.0Z"/><path d="M360.6 898.1L365.6 908.1L355.6 908.1Z"/><path d="M342.0 922.7L347.0 932.7L337.0 932.7Z"/><path d="M386.8 895.0L391.8 905.0L381.8 905.0Z"/><path d="M356.3 885.9L361.3 895.9L351.3 895.9Z"/><path d="M383.2 943.3L388.2 953.3L378.2 953.3Z"/><path d="M370.1 894.2L375.1 904.2L365.1 904.2Z"/><path d="M398.7 945.6L403.7 955.6L393.7 955.6Z"/><path d="M338.5 895.6L343.5 905.6L333.5 905.6Z"/><path d="M351.8 900.4L356.8 910.4L346.8 910.4Z"/><path d="M360.1 915.1L365.1 925.1L355.1 925.1Z"/><path d="M381.6 913.8L386.6 923.8L376.6 923.8Z"/><path d="M367.9 892.4L372.9 902.4L362.9 902.4Z"/><path d="M375.8 910.7L380.8 920.7L370.8 920.7Z"/><path d="M396.3 931.9L401.3 941.9L391.3 941.9Z"/><path d="M396.7 940.4L401.7 950.4L391.7 950.4Z"/><path d="M359.1 922.1L364.1 932.1L354.1 932.1Z"/><path d="M381.9 890.5L386.9 900.5L376.9 900.5Z"/><path d="M373.4 941.1L378.4 951.1L368.4 951.1Z"/><path d="M356.3 909.0L361.3 919.0L351.3 919.0Z"/><path d="M377.8 941.5L382.8 951.5L372.8 951.5Z"/><path d="M352.5 880.0L357.5 890.0L347.5 890.0Z"/><path d="M373.1 907.8L378.1 917.8L368.1 917.8Z"/><path d="M389.1 888.8L394.1 898.8L384.1 898.8Z"/><path d="M358.9 901.0L363.9 911.0L353.9 911.0Z"/><path d="M388.4 898.6L393.4 908.6L383.4 908.6Z"/><path d="M364.5 906.9L369.5 916.9L359.5 916.9Z"/><path d="M393.2 932.2L398.2 942.2L388.2 942.2Z"/><path d="M330.9 904.6L335.9 914.6L325.9 914.6Z"/><path d="M399.0 906.8L404.0 916.8L394.0 916.8Z"/><path d="M367.8 932.8L372.8 942.8L362.8 942.8Z"/><path d="M367.7 910.4L372.7 920.4L362.7 920.4Z"/><path d="M340.8 896.5L345.8 906.5L335.8 906.5Z"/><path d="M313.1 891.6L318.1 901.6L308.1 901.6Z"/><path d="M326.4 895.7L331.4 905.7L321.4 905.7Z"/><path d="M326.4 906.9L331.4 916.9L321.4 916.9Z"/><path d="M314.2 916.1L319.2 926.1L309.2 926.1Z"/><path d="M316.2 926.3L321.2 936.3L311.2 936.3Z"/><path d="M328.5 926.3L333.5 936.3L323.5 936.3Z"/><path d="M328.5 937.6L333.5 947.6L323.5 947.6Z"/><path d="M406.2 874.5L411.2 884.5L401.2 884.5Z"/><path d="M431.0 879.6L436.0 889.6L426.0 889.6Z"/><path d="M444.7 886.9L449.7 896.9L439.7 896.9Z"/><path d="M452.5 890.5L457.5 900.5L447.5 900.5Z"/><path d="M416.7 890.5L421.7 900.5L411.7 900.5Z"/><path d="M426.2 897.8L431.2 907.8L421.2 907.8Z"/><path d="M434.2 906.6L439.2 916.6L429.2 916.6Z"/><path d="M449.6 902.2L454.6 912.2L444.6 912.2Z"/><path d="M447.4 908.1L452.4 918.1L442.4 918.1Z"/><path d="M414.5 907.3L419.5 917.3L409.5 917.3Z"/><path d="M456.9 915.4L461.9 925.4L451.9 925.4Z"/><path d="M463.4 923.4L468.4 933.4L458.4 933.4Z"/><path d="M458.3 932.2L463.3 942.2L453.3 942.2Z"/><path d="M444.5 920.5L449.5 930.5L439.5 930.5Z"/><path d="M432.8 917.6L437.8 927.6L427.8 927.6Z"/><path d="M425.5 923.4L430.5 933.4L420.5 933.4Z"/><path d="M412.3 926.3L417.3 936.3L407.3 936.3Z"/><path d="M404.3 930.7L409.3 940.7L399.3 940.7Z"/><path d="M402.8 938.0L407.8 948.0L397.8 948.0Z"/><path d="M418.2 926.3L423.2 936.3L413.2 936.3Z"/><path d="M421.8 940.9L426.8 950.9L416.8 950.9Z"/><path d="M434.2 937.3L439.2 947.3L429.2 947.3Z"/><path d="M441.5 936.5L446.5 946.5L436.5 946.5Z"/><path d="M448.8 938.7L453.8 948.7L443.8 948.7Z"/><path d="M445.2 948.2L450.2 958.2L440.2 958.2Z"/><path d="M462.0 947.5L467.0 957.5L457.0 957.5Z"/><path d="M467.8 944.6L472.8 954.6L462.8 954.6Z"/><path d="M469.3 951.1L474.3 961.1L464.3 961.1Z"/><path d="M461.2 961.4L466.2 971.4L456.2 971.4Z"/><path d="M402.8 953.3L407.8 963.3L397.8 963.3Z"/><path d="M405.0 948.2L410.0 958.2L400.0 958.2Z"/><path d="M403.6 897.8L408.6 907.8L398.6 907.8Z"/><path d="M402.1 888.4L407.1 898.4L397.1 898.4Z"/><path d="M400.7 882.5L405.7 892.5L395.7 892.5Z"/><path d="M396.3 904.4L401.3 914.4L391.3 914.4Z"/><path d="M403.6 909.5L408.6 919.5L398.6 919.5Z"/><path d="M405.0 915.4L410.0 925.4L400.0 925.4Z"/><path d="M399.2 901.5L404.2 911.5L394.2 911.5Z"/><path d="M347.9 949.6L352.9 959.6L342.9 959.6Z"/><path d="M433.6 928.0L438.6 938.0L428.6 938.0Z"/><path d="M444.6 927.3L449.6 937.3L439.6 937.3Z"/><path d="M437.3 937.1L442.3 947.1L432.3 947.1Z"/><path d="M473.8 937.1L478.8 947.1L468.8 947.1Z"/><path d="M484.0 937.1L489.0 947.1L479.0 947.1Z"/><path d="M482.9 944.4L487.9 954.4L477.9 954.4Z"/><path d="M485.5 951.7L490.5 961.7L480.5 961.7Z"/><path d="M497.5 950.6L502.5 960.6L492.5 960.6Z"/><path d="M505.9 937.1L510.9 947.1L500.9 947.1Z"/><path d="M503.0 942.6L508.0 952.6L498.0 952.6Z"/><path d="M512.1 944.4L517.1 954.4L507.1 954.4Z"/><path d="M519.4 933.5L524.4 943.5L514.4 943.5Z"/><path d="M476.7 922.5L481.7 932.5L471.7 932.5Z"/><path d="M490.2 924.3L495.2 934.3L485.2 934.3Z"/><path d="M482.9 915.2L487.9 925.2L477.9 925.2Z"/><path d="M482.2 904.3L487.2 914.3L477.2 914.3Z"/><path d="M495.7 907.9L500.7 917.9L490.7 917.9Z"/><path d="M498.6 916.3L503.6 926.3L493.6 926.3Z"/><path d="M506.6 898.1L511.6 908.1L501.6 908.1Z"/><path d="M505.9 911.6L510.9 921.6L500.9 921.6Z"/><path d="M512.1 913.4L517.1 923.4L507.1 923.4Z"/><path d="M517.6 915.2L522.6 925.2L512.6 925.2Z"/><path d="M521.2 922.5L526.2 932.5L516.2 932.5Z"/><path d="M523.1 892.6L528.1 902.6L518.1 902.6Z"/><path d="M524.9 907.2L529.9 917.2L519.9 917.2Z"/><path d="M524.2 956.5L529.2 966.5L519.2 966.5Z"/><path d="M497.5 963.8L502.5 973.8L492.5 973.8Z"/><path d="M504.8 966.3L509.8 976.3L499.8 976.3Z"/><path d="M499.3 975.4L504.3 985.4L494.3 985.4Z"/><path d="M563.2 980.9L568.2 990.9L558.2 990.9Z"/><path d="M651.5 915.2L656.5 925.2L646.5 925.2Z"/></g>
<rect x="90.3" y="583.3" width="591.4" height="427.0" fill="none" stroke="#222" stroke-width="1.7"/>
<line x1="155.6" y1="1564.1" x2="155.6" y2="1570.3" stroke="#222" stroke-width="1.6"/>
<text x="155.6" y="1589.8" font-size="19.5" text-anchor="middle" fill="#111" textLength="33.6" lengthAdjust="spacingAndGlyphs">−10</text>
<line x1="270.3" y1="1564.1" x2="270.3" y2="1570.3" stroke="#222" stroke-width="1.6"/>
<text x="270.3" y="1589.8" font-size="19.5" text-anchor="middle" fill="#111" textLength="23.0" lengthAdjust="spacingAndGlyphs">−5</text>
<line x1="385.1" y1="1564.1" x2="385.1" y2="1570.3" stroke="#222" stroke-width="1.6"/>
<text x="385.1" y="1589.8" font-size="19.5" text-anchor="middle" fill="#111" textLength="10.6" lengthAdjust="spacingAndGlyphs">0</text>
<line x1="499.9" y1="1564.1" x2="499.9" y2="1570.3" stroke="#222" stroke-width="1.6"/>
<text x="499.9" y="1589.8" font-size="19.5" text-anchor="middle" fill="#111" textLength="10.6" lengthAdjust="spacingAndGlyphs">5</text>
<line x1="612.9" y1="1564.1" x2="612.9" y2="1570.3" stroke="#222" stroke-width="1.6"/>
<text x="612.9" y="1589.8" font-size="19.5" text-anchor="middle" fill="#111" textLength="19.8" lengthAdjust="spacingAndGlyphs">10</text>
<line x1="84.1" y1="1516.6" x2="90.3" y2="1516.6" stroke="#222" stroke-width="1.6"/>
<text x="77" y="1522.7" font-size="19.5" text-anchor="end" fill="#111" textLength="23.0" lengthAdjust="spacingAndGlyphs">−5</text>
<line x1="84.1" y1="1444.3" x2="90.3" y2="1444.3" stroke="#222" stroke-width="1.6"/>
<text x="77" y="1450.4" font-size="19.5" text-anchor="end" fill="#111" textLength="10.6" lengthAdjust="spacingAndGlyphs">0</text>
<line x1="84.1" y1="1372.0" x2="90.3" y2="1372.0" stroke="#222" stroke-width="1.6"/>
<text x="77" y="1378.0" font-size="19.5" text-anchor="end" fill="#111" textLength="10.6" lengthAdjust="spacingAndGlyphs">5</text>
<line x1="84.1" y1="1299.6" x2="90.3" y2="1299.6" stroke="#222" stroke-width="1.6"/>
<text x="76.2" y="1305.7" font-size="19.5" text-anchor="end" fill="#111" textLength="19.8" lengthAdjust="spacingAndGlyphs">10</text>
<line x1="84.1" y1="1227.2" x2="90.3" y2="1227.2" stroke="#222" stroke-width="1.6"/>
<text x="76.2" y="1233.3" font-size="19.5" text-anchor="end" fill="#111" textLength="19.8" lengthAdjust="spacingAndGlyphs">15</text>
<line x1="84.1" y1="1154.9" x2="90.3" y2="1154.9" stroke="#222" stroke-width="1.6"/>
<text x="76.2" y="1161.0" font-size="19.5" text-anchor="end" fill="#111" textLength="19.8" lengthAdjust="spacingAndGlyphs">20</text>
<text x="383.9" y="1621.3" font-size="29.5" text-anchor="middle" fill="#111" textLength="61.6" lengthAdjust="spacingAndGlyphs">PC 1</text>
<text transform="translate(36.1,1352.0) rotate(-90)" x="0" y="0" font-size="29.5" text-anchor="middle" fill="#111" textLength="61.6" lengthAdjust="spacingAndGlyphs">PC 3</text>
<text x="-0.3" y="1132.8" font-size="35.5" fill="#000" textLength="43.2" lengthAdjust="spacingAndGlyphs">(c)</text>
<g fill="#ffff00" stroke="#000" stroke-width="1.5" fill-opacity="0.8" stroke-opacity="0.8"><rect x="470.4" y="1463.4" width="10.4" height="10.4"/><rect x="481.2" y="1443.1" width="10.4" height="10.4"/><rect x="504.4" y="1498.0" width="10.4" height="10.4"/><rect x="462.2" y="1470.1" width="10.4" height="10.4"/><rect x="487.8" y="1493.6" width="10.4" height="10.4"/><rect x="434.7" y="1455.8" width="10.4" height="10.4"/><rect x="439.3" y="1448.5" width="10.4" height="10.4"/><rect x="456.9" y="1466.5" width="10.4" height="10.4"/><rect x="472.5" y="1455.4" width="10.4" height="10.4"/><rect x="445.1" y="1454.3" width="10.4" height="10.4"/><rect x="460.4" y="1460.6" width="10.4" height="10.4"/><rect x="494.8" y="1489.7" width="10.4" height="10.4"/><rect x="468.3" y="1458.0" width="10.4" height="10.4"/><rect x="443.1" y="1470.2" width="10.4" height="10.4"/><rect x="445.8" y="1494.9" width="10.4" height="10.4"/><rect x="451.6" y="1494.0" width="10.4" height="10.4"/><rect x="489.6" y="1478.6" width="10.4" height="10.4"/><rect x="482.3" y="1485.2" width="10.4" height="10.4"/><rect x="483.7" y="1458.7" width="10.4" height="10.4"/><rect x="448.3" y="1488.4" width="10.4" height="10.4"/><rect x="469.7" y="1476.4" width="10.4" height="10.4"/><rect x="436.1" y="1490.6" width="10.4" height="10.4"/><rect x="471.4" y="1470.1" width="10.4" height="10.4"/><rect x="498.7" y="1488.6" width="10.4" height="10.4"/><rect x="476.2" y="1464.6" width="10.4" height="10.4"/><rect x="438.1" y="1487.1" width="10.4" height="10.4"/><rect x="499.0" y="1471.9" width="10.4" height="10.4"/><rect x="450.7" y="1469.0" width="10.4" height="10.4"/><rect x="422.0" y="1470.8" width="10.4" height="10.4"/><rect x="478.5" y="1487.0" width="10.4" height="10.4"/><rect x="475.2" y="1453.1" width="10.4" height="10.4"/><rect x="484.5" y="1476.8" width="10.4" height="10.4"/><rect x="457.5" y="1474.7" width="10.4" height="10.4"/><rect x="474.4" y="1484.6" width="10.4" height="10.4"/><rect x="435.7" y="1472.9" width="10.4" height="10.4"/><rect x="474.3" y="1437.5" width="10.4" height="10.4"/><rect x="428.7" y="1459.4" width="10.4" height="10.4"/><rect x="480.8" y="1475.7" width="10.4" height="10.4"/><rect x="435.8" y="1462.8" width="10.4" height="10.4"/><rect x="471.5" y="1490.3" width="10.4" height="10.4"/><rect x="463.1" y="1493.9" width="10.4" height="10.4"/><rect x="444.0" y="1485.6" width="10.4" height="10.4"/><rect x="447.3" y="1472.4" width="10.4" height="10.4"/><rect x="436.2" y="1465.2" width="10.4" height="10.4"/><rect x="453.9" y="1451.8" width="10.4" height="10.4"/><rect x="446.5" y="1467.0" width="10.4" height="10.4"/><rect x="422.9" y="1477.8" width="10.4" height="10.4"/><rect x="467.2" y="1438.2" width="10.4" height="10.4"/><rect x="461.1" y="1448.3" width="10.4" height="10.4"/><rect x="430.6" y="1472.5" width="10.4" height="10.4"/><rect x="510.6" y="1494.2" width="10.4" height="10.4"/><rect x="461.7" y="1445.2" width="10.4" height="10.4"/><rect x="449.5" y="1462.4" width="10.4" height="10.4"/><rect x="457.9" y="1478.5" width="10.4" height="10.4"/><rect x="489.2" y="1448.2" width="10.4" height="10.4"/><rect x="460.6" y="1488.0" width="10.4" height="10.4"/><rect x="510.1" y="1491.7" width="10.4" height="10.4"/><rect x="495.7" y="1454.0" width="10.4" height="10.4"/><rect x="502.5" y="1462.4" width="10.4" height="10.4"/><rect x="456.7" y="1484.2" width="10.4" height="10.4"/><rect x="488.1" y="1489.0" width="10.4" height="10.4"/><rect x="447.2" y="1482.2" width="10.4" height="10.4"/><rect x="425.8" y="1466.6" width="10.4" height="10.4"/><rect x="479.6" y="1458.5" width="10.4" height="10.4"/><rect x="443.3" y="1461.9" width="10.4" height="10.4"/><rect x="493.3" y="1453.9" width="10.4" height="10.4"/><rect x="496.3" y="1464.6" width="10.4" height="10.4"/><rect x="448.2" y="1449.9" width="10.4" height="10.4"/><rect x="474.9" y="1494.5" width="10.4" height="10.4"/><rect x="489.5" y="1463.9" width="10.4" height="10.4"/><rect x="494.2" y="1460.1" width="10.4" height="10.4"/><rect x="465.0" y="1440.7" width="10.4" height="10.4"/><rect x="490.1" y="1467.1" width="10.4" height="10.4"/><rect x="436.7" y="1485.9" width="10.4" height="10.4"/><rect x="489.4" y="1470.9" width="10.4" height="10.4"/><rect x="456.8" y="1438.8" width="10.4" height="10.4"/><rect x="452.3" y="1479.4" width="10.4" height="10.4"/><rect x="465.4" y="1465.3" width="10.4" height="10.4"/><rect x="502.4" y="1491.4" width="10.4" height="10.4"/><rect x="455.0" y="1495.9" width="10.4" height="10.4"/><rect x="465.7" y="1477.0" width="10.4" height="10.4"/><rect x="452.7" y="1491.0" width="10.4" height="10.4"/><rect x="500.7" y="1478.1" width="10.4" height="10.4"/><rect x="466.9" y="1443.1" width="10.4" height="10.4"/><rect x="483.2" y="1463.5" width="10.4" height="10.4"/><rect x="474.8" y="1469.2" width="10.4" height="10.4"/><rect x="513.7" y="1493.9" width="10.4" height="10.4"/><rect x="439.9" y="1467.9" width="10.4" height="10.4"/><rect x="474.4" y="1473.4" width="10.4" height="10.4"/><rect x="461.9" y="1435.8" width="10.4" height="10.4"/><rect x="442.3" y="1456.3" width="10.4" height="10.4"/><rect x="469.0" y="1450.2" width="10.4" height="10.4"/><rect x="493.7" y="1485.6" width="10.4" height="10.4"/><rect x="451.6" y="1439.7" width="10.4" height="10.4"/><rect x="502.9" y="1498.4" width="10.4" height="10.4"/><rect x="434.3" y="1477.1" width="10.4" height="10.4"/><rect x="461.8" y="1458.0" width="10.4" height="10.4"/><rect x="466.1" y="1492.6" width="10.4" height="10.4"/><rect x="421.8" y="1485.5" width="10.4" height="10.4"/><rect x="450.4" y="1457.8" width="10.4" height="10.4"/><rect x="480.5" y="1440.1" width="10.4" height="10.4"/><rect x="475.9" y="1463.7" width="10.4" height="10.4"/><rect x="482.9" y="1465.7" width="10.4" height="10.4"/><rect x="427.6" y="1484.0" width="10.4" height="10.4"/><rect x="499.0" y="1486.0" width="10.4" height="10.4"/><rect x="456.6" y="1459.6" width="10.4" height="10.4"/><rect x="422.0" y="1460.7" width="10.4" height="10.4"/><rect x="484.8" y="1452.4" width="10.4" height="10.4"/><rect x="427.1" y="1476.7" width="10.4" height="10.4"/><rect x="493.7" y="1495.4" width="10.4" height="10.4"/><rect x="466.7" y="1492.8" width="10.4" height="10.4"/><rect x="448.9" y="1478.8" width="10.4" height="10.4"/><rect x="496.8" y="1470.2" width="10.4" height="10.4"/><rect x="444.2" y="1446.3" width="10.4" height="10.4"/><rect x="481.8" y="1495.2" width="10.4" height="10.4"/><rect x="465.2" y="1486.7" width="10.4" height="10.4"/><rect x="442.2" y="1477.5" width="10.4" height="10.4"/><rect x="482.1" y="1471.5" width="10.4" height="10.4"/><rect x="453.3" y="1446.7" width="10.4" height="10.4"/><rect x="487.5" y="1483.8" width="10.4" height="10.4"/><rect x="442.7" y="1448.6" width="10.4" height="10.4"/><rect x="470.2" y="1446.1" width="10.4" height="10.4"/><rect x="471.1" y="1485.8" width="10.4" height="10.4"/><rect x="517.4" y="1423.0" width="10.4" height="10.4"/><rect x="489.4" y="1438.6" width="10.4" height="10.4"/><rect x="503.4" y="1445.6" width="10.4" height="10.4"/><rect x="436.4" y="1504.0" width="10.4" height="10.4"/><rect x="490.6" y="1509.4" width="10.4" height="10.4"/><rect x="504.6" y="1511.0" width="10.4" height="10.4"/><rect x="511.6" y="1507.1" width="10.4" height="10.4"/><rect x="510.4" y="1497.7" width="10.4" height="10.4"/><rect x="516.3" y="1491.9" width="10.4" height="10.4"/><rect x="531.4" y="1519.9" width="10.4" height="10.4"/><rect x="544.3" y="1517.6" width="10.4" height="10.4"/><rect x="531.4" y="1529.3" width="10.4" height="10.4"/><rect x="418.2" y="1496.6" width="10.4" height="10.4"/><rect x="497.6" y="1458.0" width="10.4" height="10.4"/><rect x="495.2" y="1475.5" width="10.4" height="10.4"/></g>
<g fill="#ff0000" stroke="#000" stroke-width="1.5" fill-opacity="0.8" stroke-opacity="0.8"><path d="M419.9 1439.9L427.1 1447.1L419.9 1454.3L412.7 1447.1Z"/><path d="M415.1 1440.8L422.3 1448.0L415.1 1455.2L407.9 1448.0Z"/><path d="M422.4 1448.2L429.6 1455.4L422.4 1462.6L415.2 1455.4Z"/><path d="M417.9 1456.2L425.1 1463.4L417.9 1470.6L410.7 1463.4Z"/><path d="M445.2 1435.9L452.4 1443.1L445.2 1450.3L438.0 1443.1Z"/><path d="M429.2 1453.4L436.4 1460.6L429.2 1467.8L422.0 1460.6Z"/><path d="M410.6 1442.8L417.8 1450.0L410.6 1457.2L403.4 1450.0Z"/><path d="M426.7 1454.9L433.9 1462.1L426.7 1469.3L419.5 1462.1Z"/><path d="M446.1 1444.4L453.3 1451.6L446.1 1458.8L438.9 1451.6Z"/><path d="M413.6 1433.6L420.8 1440.8L413.6 1448.0L406.4 1440.8Z"/><path d="M437.1 1452.1L444.3 1459.3L437.1 1466.5L429.9 1459.3Z"/><path d="M435.1 1455.2L442.3 1462.4L435.1 1469.6L427.9 1462.4Z"/><path d="M435.1 1437.9L442.3 1445.1L435.1 1452.3L427.9 1445.1Z"/><path d="M430.0 1433.1L437.2 1440.3L430.0 1447.5L422.8 1440.3Z"/><path d="M440.7 1458.0L447.9 1465.2L440.7 1472.4L433.5 1465.2Z"/><path d="M438.7 1446.3L445.9 1453.5L438.7 1460.7L431.5 1453.5Z"/><path d="M426.6 1437.2L433.8 1444.4L426.6 1451.6L419.4 1444.4Z"/><path d="M407.1 1436.4L414.3 1443.6L407.1 1450.8L399.9 1443.6Z"/><path d="M416.5 1450.7L423.7 1457.9L416.5 1465.1L409.3 1457.9Z"/><path d="M437.8 1433.6L445.0 1440.8L437.8 1448.0L430.6 1440.8Z"/><path d="M432.2 1442.1L439.4 1449.3L432.2 1456.5L425.0 1449.3Z"/><path d="M428.2 1447.5L435.4 1454.7L428.2 1461.9L421.0 1454.7Z"/><path d="M417.3 1445.3L424.5 1452.5L417.3 1459.7L410.1 1452.5Z"/><path d="M442.5 1450.7L449.7 1457.9L442.5 1465.1L435.3 1457.9Z"/><path d="M446.7 1413.6L453.9 1420.8L446.7 1428.0L439.5 1420.8Z"/><path d="M513.9 1349.1L521.1 1356.3L513.9 1363.5L506.7 1356.3Z"/><path d="M465.5 1358.3L472.7 1365.5L465.5 1372.7L458.3 1365.5Z"/><path d="M461.6 1400.0L468.8 1407.2L461.6 1414.4L454.4 1407.2Z"/><path d="M515.5 1335.7L522.7 1342.9L515.5 1350.1L508.3 1342.9Z"/><path d="M480.6 1406.4L487.8 1413.6L480.6 1420.8L473.4 1413.6Z"/><path d="M421.2 1404.6L428.4 1411.8L421.2 1419.0L414.0 1411.8Z"/><path d="M415.0 1427.6L422.2 1434.8L415.0 1442.0L407.8 1434.8Z"/><path d="M483.9 1349.8L491.1 1357.0L483.9 1364.2L476.7 1357.0Z"/><path d="M519.1 1367.4L526.3 1374.6L519.1 1381.8L511.9 1374.6Z"/><path d="M480.6 1354.7L487.8 1361.9L480.6 1369.1L473.4 1361.9Z"/><path d="M459.5 1432.1L466.7 1439.3L459.5 1446.5L452.3 1439.3Z"/><path d="M438.8 1398.3L446.0 1405.5L438.8 1412.7L431.6 1405.5Z"/><path d="M418.5 1440.5L425.7 1447.7L418.5 1454.9L411.3 1447.7Z"/><path d="M503.9 1369.5L511.1 1376.7L503.9 1383.9L496.7 1376.7Z"/><path d="M457.7 1364.6L464.9 1371.8L457.7 1379.0L450.5 1371.8Z"/><path d="M495.6 1365.7L502.8 1372.9L495.6 1380.1L488.4 1372.9Z"/><path d="M440.3 1378.9L447.5 1386.1L440.3 1393.3L433.1 1386.1Z"/><path d="M416.6 1419.1L423.8 1426.3L416.6 1433.5L409.4 1426.3Z"/><path d="M436.5 1418.7L443.7 1425.9L436.5 1433.1L429.3 1425.9Z"/><path d="M490.4 1377.4L497.6 1384.6L490.4 1391.8L483.2 1384.6Z"/><path d="M510.5 1337.1L517.7 1344.3L510.5 1351.5L503.3 1344.3Z"/><path d="M453.6 1407.1L460.8 1414.3L453.6 1421.5L446.4 1414.3Z"/><path d="M428.3 1391.5L435.5 1398.7L428.3 1405.9L421.1 1398.7Z"/><path d="M447.1 1406.6L454.3 1413.8L447.1 1421.0L439.9 1413.8Z"/><path d="M472.6 1382.8L479.8 1390.0L472.6 1397.2L465.4 1390.0Z"/><path d="M426.5 1428.5L433.7 1435.7L426.5 1442.9L419.3 1435.7Z"/><path d="M462.8 1391.8L470.0 1399.0L462.8 1406.2L455.6 1399.0Z"/><path d="M481.9 1343.2L489.1 1350.4L481.9 1357.6L474.7 1350.4Z"/><path d="M484.1 1374.7L491.3 1381.9L484.1 1389.1L476.9 1381.9Z"/><path d="M494.0 1350.6L501.2 1357.8L494.0 1365.0L486.8 1357.8Z"/><path d="M453.7 1390.8L460.9 1398.0L453.7 1405.2L446.5 1398.0Z"/><path d="M420.9 1409.6L428.1 1416.8L420.9 1424.0L413.7 1416.8Z"/><path d="M447.2 1427.8L454.4 1435.0L447.2 1442.2L440.0 1435.0Z"/><path d="M472.3 1421.3L479.5 1428.5L472.3 1435.7L465.1 1428.5Z"/><path d="M441.9 1403.3L449.1 1410.5L441.9 1417.7L434.7 1410.5Z"/><path d="M438.6 1387.8L445.8 1395.0L438.6 1402.2L431.4 1395.0Z"/><path d="M452.1 1401.4L459.3 1408.6L452.1 1415.8L444.9 1408.6Z"/><path d="M477.7 1383.0L484.9 1390.2L477.7 1397.4L470.5 1390.2Z"/><path d="M406.7 1427.3L413.9 1434.5L406.7 1441.7L399.5 1434.5Z"/><path d="M484.1 1394.2L491.3 1401.4L484.1 1408.6L476.9 1401.4Z"/><path d="M466.4 1425.0L473.6 1432.2L466.4 1439.4L459.2 1432.2Z"/><path d="M421.8 1393.5L429.0 1400.7L421.8 1407.9L414.6 1400.7Z"/><path d="M441.7 1438.1L448.9 1445.3L441.7 1452.5L434.5 1445.3Z"/><path d="M478.5 1423.1L485.7 1430.3L478.5 1437.5L471.3 1430.3Z"/><path d="M429.6 1419.7L436.8 1426.9L429.6 1434.1L422.4 1426.9Z"/><path d="M457.1 1390.8L464.3 1398.0L457.1 1405.2L449.9 1398.0Z"/><path d="M480.7 1388.4L487.9 1395.6L480.7 1402.8L473.5 1395.6Z"/><path d="M475.3 1372.4L482.5 1379.6L475.3 1386.8L468.1 1379.6Z"/><path d="M425.7 1434.4L432.9 1441.6L425.7 1448.8L418.5 1441.6Z"/><path d="M499.7 1336.8L506.9 1344.0L499.7 1351.2L492.5 1344.0Z"/><path d="M487.1 1371.3L494.3 1378.5L487.1 1385.7L479.9 1378.5Z"/><path d="M413.9 1402.8L421.1 1410.0L413.9 1417.2L406.7 1410.0Z"/><path d="M477.7 1367.1L484.9 1374.3L477.7 1381.5L470.5 1374.3Z"/><path d="M407.0 1417.2L414.2 1424.4L407.0 1431.6L399.8 1424.4Z"/><path d="M469.9 1389.6L477.1 1396.8L469.9 1404.0L462.7 1396.8Z"/><path d="M428.1 1442.1L435.3 1449.3L428.1 1456.5L420.9 1449.3Z"/><path d="M478.5 1385.6L485.7 1392.8L478.5 1400.0L471.3 1392.8Z"/><path d="M470.4 1407.1L477.6 1414.3L470.4 1421.5L463.2 1414.3Z"/><path d="M483.1 1360.7L490.3 1367.9L483.1 1375.1L475.9 1367.9Z"/><path d="M483.3 1416.7L490.5 1423.9L483.3 1431.1L476.1 1423.9Z"/><path d="M505.8 1346.4L513.0 1353.6L505.8 1360.8L498.6 1353.6Z"/><path d="M503.0 1338.1L510.2 1345.3L503.0 1352.5L495.8 1345.3Z"/><path d="M461.5 1375.5L468.7 1382.7L461.5 1389.9L454.3 1382.7Z"/><path d="M451.7 1425.2L458.9 1432.4L451.7 1439.6L444.5 1432.4Z"/><path d="M456.6 1381.5L463.8 1388.7L456.6 1395.9L449.4 1388.7Z"/><path d="M430.2 1417.6L437.4 1424.8L430.2 1432.0L423.0 1424.8Z"/><path d="M481.9 1403.4L489.1 1410.6L481.9 1417.8L474.7 1410.6Z"/><path d="M434.1 1427.2L441.3 1434.4L434.1 1441.6L426.9 1434.4Z"/><path d="M458.9 1414.5L466.1 1421.7L458.9 1428.9L451.7 1421.7Z"/><path d="M430.7 1407.9L437.9 1415.1L430.7 1422.3L423.5 1415.1Z"/><path d="M459.3 1396.7L466.5 1403.9L459.3 1411.1L452.1 1403.9Z"/><path d="M420.7 1433.1L427.9 1440.3L420.7 1447.5L413.5 1440.3Z"/><path d="M405.0 1432.1L412.2 1439.3L405.0 1446.5L397.8 1439.3Z"/><path d="M513.5 1366.5L520.7 1373.7L513.5 1380.9L506.3 1373.7Z"/><path d="M425.8 1411.8L433.0 1419.0L425.8 1426.2L418.6 1419.0Z"/><path d="M435.7 1392.2L442.9 1399.4L435.7 1406.6L428.5 1399.4Z"/><path d="M515.6 1364.2L522.8 1371.4L515.6 1378.6L508.4 1371.4Z"/><path d="M463.0 1410.2L470.2 1417.4L463.0 1424.6L455.8 1417.4Z"/><path d="M454.3 1436.7L461.5 1443.9L454.3 1451.1L447.1 1443.9Z"/><path d="M473.0 1364.7L480.2 1371.9L473.0 1379.1L465.8 1371.9Z"/><path d="M446.2 1376.8L453.4 1384.0L446.2 1391.2L439.0 1384.0Z"/><path d="M453.3 1427.8L460.5 1435.0L453.3 1442.2L446.1 1435.0Z"/><path d="M432.3 1401.9L439.5 1409.1L432.3 1416.3L425.1 1409.1Z"/><path d="M423.8 1414.2L431.0 1421.4L423.8 1428.6L416.6 1421.4Z"/><path d="M446.2 1390.0L453.4 1397.2L446.2 1404.4L439.0 1397.2Z"/><path d="M420.2 1392.2L427.4 1399.4L420.2 1406.6L413.0 1399.4Z"/><path d="M449.8 1377.1L457.0 1384.3L449.8 1391.5L442.6 1384.3Z"/><path d="M409.8 1437.0L417.0 1444.2L409.8 1451.4L402.6 1444.2Z"/><path d="M438.9 1393.4L446.1 1400.6L438.9 1407.8L431.7 1400.6Z"/><path d="M511.2 1351.0L518.4 1358.2L511.2 1365.4L504.0 1358.2Z"/><path d="M517.2 1339.3L524.4 1346.5L517.2 1353.7L510.0 1346.5Z"/><path d="M481.7 1395.3L488.9 1402.5L481.7 1409.7L474.5 1402.5Z"/><path d="M475.4 1417.5L482.6 1424.7L475.4 1431.9L468.2 1424.7Z"/><path d="M400.3 1411.1L407.5 1418.3L400.3 1425.5L393.1 1418.3Z"/><path d="M497.3 1376.4L504.5 1383.6L497.3 1390.8L490.1 1383.6Z"/><path d="M401.6 1422.0L408.8 1429.2L401.6 1436.4L394.4 1429.2Z"/><path d="M450.6 1417.4L457.8 1424.6L450.6 1431.8L443.4 1424.6Z"/><path d="M462.2 1363.5L469.4 1370.7L462.2 1377.9L455.0 1370.7Z"/><path d="M468.5 1427.4L475.7 1434.6L468.5 1441.8L461.3 1434.6Z"/><path d="M508.3 1343.4L515.5 1350.6L508.3 1357.8L501.1 1350.6Z"/><path d="M440.9 1419.1L448.1 1426.3L440.9 1433.5L433.7 1426.3Z"/><path d="M461.7 1368.2L468.9 1375.4L461.7 1382.6L454.5 1375.4Z"/><path d="M395.3 1428.5L402.5 1435.7L395.3 1442.9L388.1 1435.7Z"/><path d="M464.9 1382.8L472.1 1390.0L464.9 1397.2L457.7 1390.0Z"/><path d="M451.4 1437.7L458.6 1444.9L451.4 1452.1L444.2 1444.9Z"/><path d="M406.8 1421.3L414.0 1428.5L406.8 1435.7L399.6 1428.5Z"/><path d="M477.7 1362.2L484.9 1369.4L477.7 1376.6L470.5 1369.4Z"/><path d="M493.8 1354.6L501.0 1361.8L493.8 1369.0L486.6 1361.8Z"/><path d="M434.4 1437.5L441.6 1444.7L434.4 1451.9L427.2 1444.7Z"/><path d="M500.4 1357.8L507.6 1365.0L500.4 1372.2L493.2 1365.0Z"/><path d="M490.9 1379.1L498.1 1386.3L490.9 1393.5L483.7 1386.3Z"/><path d="M499.3 1347.6L506.5 1354.8L499.3 1362.0L492.1 1354.8Z"/><path d="M408.3 1407.3L415.5 1414.5L408.3 1421.7L401.1 1414.5Z"/><path d="M471.4 1401.0L478.6 1408.2L471.4 1415.4L464.2 1408.2Z"/><path d="M419.2 1430.4L426.4 1437.6L419.2 1444.8L412.0 1437.6Z"/><path d="M447.8 1380.3L455.0 1387.5L447.8 1394.7L440.6 1387.5Z"/><path d="M486.1 1356.9L493.3 1364.1L486.1 1371.3L478.9 1364.1Z"/><path d="M474.9 1397.0L482.1 1404.2L474.9 1411.4L467.7 1404.2Z"/><path d="M467.6 1357.1L474.8 1364.3L467.6 1371.5L460.4 1364.3Z"/><path d="M501.6 1328.0L508.8 1335.2L501.6 1342.4L494.4 1335.2Z"/><path d="M499.0 1362.7L506.2 1369.9L499.0 1377.1L491.8 1369.9Z"/><path d="M441.3 1440.2L448.5 1447.4L441.3 1454.6L434.1 1447.4Z"/><path d="M459.2 1420.3L466.4 1427.5L459.2 1434.7L452.0 1427.5Z"/><path d="M422.6 1424.1L429.8 1431.3L422.6 1438.5L415.4 1431.3Z"/><path d="M447.2 1393.4L454.4 1400.6L447.2 1407.8L440.0 1400.6Z"/><path d="M468.2 1417.2L475.4 1424.4L468.2 1431.6L461.0 1424.4Z"/><path d="M415.9 1412.4L423.1 1419.6L415.9 1426.8L408.7 1419.6Z"/><path d="M474.2 1426.2L481.4 1433.4L474.2 1440.6L467.0 1433.4Z"/><path d="M397.2 1414.8L404.4 1422.0L397.2 1429.2L390.0 1422.0Z"/><path d="M493.7 1364.1L500.9 1371.3L493.7 1378.5L486.5 1371.3Z"/><path d="M505.6 1360.4L512.8 1367.6L505.6 1374.8L498.4 1367.6Z"/><path d="M475.3 1402.0L482.5 1409.2L475.3 1416.4L468.1 1409.2Z"/><path d="M465.1 1371.5L472.3 1378.7L465.1 1385.9L457.9 1378.7Z"/><path d="M441.1 1408.8L448.3 1416.0L441.1 1423.2L433.9 1416.0Z"/><path d="M488.6 1331.7L495.8 1338.9L488.6 1346.1L481.4 1338.9Z"/><path d="M521.3 1336.8L528.5 1344.0L521.3 1351.2L514.1 1344.0Z"/><path d="M534.2 1331.0L541.4 1338.2L534.2 1345.4L527.0 1338.2Z"/><path d="M515.5 1367.2L522.7 1374.4L515.5 1381.6L508.3 1374.4Z"/><path d="M494.5 1374.2L501.7 1381.4L494.5 1388.6L487.3 1381.4Z"/><path d="M508.5 1403.4L515.7 1410.6L508.5 1417.8L501.3 1410.6Z"/><path d="M480.4 1420.9L487.6 1428.1L480.4 1435.3L473.2 1428.1Z"/><path d="M403.4 1404.6L410.6 1411.8L403.4 1419.0L396.2 1411.8Z"/><path d="M394.0 1418.6L401.2 1425.8L394.0 1433.0L386.8 1425.8Z"/><path d="M410.4 1397.5L417.6 1404.7L410.4 1411.9L403.2 1404.7Z"/><path d="M436.1 1384.7L443.3 1391.9L436.1 1399.1L428.9 1391.9Z"/><path d="M630.3 1152.7L637.5 1159.9L630.3 1167.1L623.1 1159.9Z"/><path d="M651.8 1236.1L659.0 1243.3L651.8 1250.5L644.6 1243.3Z"/><path d="M561.4 1244.1L568.6 1251.3L561.4 1258.5L554.2 1251.3Z"/><path d="M577.3 1253.3L584.5 1260.5L577.3 1267.7L570.1 1260.5Z"/><path d="M561.4 1283.0L568.6 1290.2L561.4 1297.4L554.2 1290.2Z"/><path d="M577.3 1279.3L584.5 1286.5L577.3 1293.7L570.1 1286.5Z"/><path d="M609.5 1279.3L616.7 1286.5L609.5 1293.7L602.3 1286.5Z"/><path d="M609.5 1285.5L616.7 1292.7L609.5 1299.9L602.3 1292.7Z"/><path d="M536.8 1289.8L544.0 1297.0L536.8 1304.2L529.6 1297.0Z"/><path d="M544.5 1293.7L551.7 1300.9L544.5 1308.1L537.3 1300.9Z"/><path d="M567.5 1293.7L574.7 1300.9L567.5 1308.1L560.3 1300.9Z"/><path d="M513.8 1316.1L521.0 1323.3L513.8 1330.5L506.6 1323.3Z"/><path d="M531.3 1318.3L538.5 1325.5L531.3 1332.7L524.1 1325.5Z"/><path d="M503.1 1329.6L510.3 1336.8L503.1 1344.0L495.9 1336.8Z"/><path d="M509.9 1332.1L517.1 1339.3L509.9 1346.5L502.7 1339.3Z"/><path d="M482.9 1342.1L490.1 1349.3L482.9 1356.5L475.7 1349.3Z"/><path d="M480.9 1349.2L488.1 1356.4L480.9 1363.6L473.7 1356.4Z"/><path d="M499.3 1351.3L506.5 1358.5L499.3 1365.7L492.1 1358.5Z"/><path d="M509.5 1353.3L516.7 1360.5L509.5 1367.7L502.3 1360.5Z"/><path d="M485.0 1357.4L492.2 1364.6L485.0 1371.8L477.8 1364.6Z"/><path d="M470.7 1360.5L477.9 1367.7L470.7 1374.9L463.5 1367.7Z"/><path d="M460.4 1366.6L467.6 1373.8L460.4 1381.0L453.2 1373.8Z"/><path d="M472.7 1366.6L479.9 1373.8L472.7 1381.0L465.5 1373.8Z"/><path d="M511.5 1365.6L518.7 1372.8L511.5 1380.0L504.3 1372.8Z"/><path d="M495.2 1370.7L502.4 1377.9L495.2 1385.1L488.0 1377.9Z"/><path d="M446.1 1370.7L453.3 1377.9L446.1 1385.1L438.9 1377.9Z"/></g>
<g fill="#0000ff" stroke="#000" stroke-width="1.5" fill-opacity="0.8" stroke-opacity="0.8"><circle cx="119.6" cy="1407.4" r="5.6"/><circle cx="169.5" cy="1437.2" r="5.6"/><circle cx="169.5" cy="1416.0" r="5.6"/><circle cx="177.7" cy="1408.6" r="5.6"/><circle cx="185.8" cy="1402.5" r="5.6"/><circle cx="179.7" cy="1420.9" r="5.6"/><circle cx="189.1" cy="1427.0" r="5.6"/><circle cx="207.1" cy="1396.4" r="5.6"/><circle cx="222.6" cy="1400.4" r="5.6"/><circle cx="234.9" cy="1403.7" r="5.6"/><circle cx="255.3" cy="1409.4" r="5.6"/><circle cx="273.7" cy="1405.3" r="5.6"/><circle cx="306.4" cy="1416.8" r="5.6"/><circle cx="307.6" cy="1425.0" r="5.6"/><circle cx="292.1" cy="1445.4" r="5.6"/><circle cx="265.5" cy="1453.6" r="5.6"/><circle cx="251.2" cy="1449.5" r="5.6"/><circle cx="243.1" cy="1447.4" r="5.6"/><circle cx="218.5" cy="1437.2" r="5.6"/><circle cx="316.6" cy="1439.3" r="5.6"/><circle cx="310.5" cy="1447.4" r="5.6"/><circle cx="333.0" cy="1443.4" r="5.6"/><circle cx="347.3" cy="1431.1" r="5.6"/><circle cx="371.8" cy="1433.1" r="5.6"/><circle cx="228.3" cy="1427.5" r="5.6"/><circle cx="286.1" cy="1431.9" r="5.6"/><circle cx="222.7" cy="1406.2" r="5.6"/><circle cx="312.9" cy="1449.5" r="5.6"/><circle cx="195.3" cy="1411.5" r="5.6"/><circle cx="269.8" cy="1425.1" r="5.6"/><circle cx="269.0" cy="1412.0" r="5.6"/><circle cx="289.7" cy="1432.3" r="5.6"/><circle cx="265.5" cy="1423.2" r="5.6"/><circle cx="250.4" cy="1442.8" r="5.6"/><circle cx="254.6" cy="1406.2" r="5.6"/><circle cx="177.3" cy="1419.3" r="5.6"/><circle cx="221.5" cy="1420.1" r="5.6"/><circle cx="279.3" cy="1426.6" r="5.6"/><circle cx="310.5" cy="1444.0" r="5.6"/><circle cx="299.9" cy="1434.7" r="5.6"/><circle cx="215.2" cy="1416.4" r="5.6"/><circle cx="301.0" cy="1421.8" r="5.6"/><circle cx="241.4" cy="1440.6" r="5.6"/><circle cx="250.2" cy="1415.1" r="5.6"/><circle cx="269.5" cy="1434.8" r="5.6"/><circle cx="282.2" cy="1422.2" r="5.6"/><circle cx="202.3" cy="1407.7" r="5.6"/><circle cx="202.8" cy="1417.1" r="5.6"/><circle cx="301.4" cy="1443.8" r="5.6"/><circle cx="294.6" cy="1425.5" r="5.6"/><circle cx="238.9" cy="1428.5" r="5.6"/><circle cx="181.9" cy="1411.0" r="5.6"/><circle cx="262.1" cy="1404.1" r="5.6"/><circle cx="247.0" cy="1430.9" r="5.6"/><circle cx="209.3" cy="1417.7" r="5.6"/><circle cx="278.5" cy="1448.3" r="5.6"/><circle cx="202.5" cy="1403.9" r="5.6"/><circle cx="272.7" cy="1413.6" r="5.6"/><circle cx="251.0" cy="1409.0" r="5.6"/><circle cx="211.6" cy="1408.0" r="5.6"/><circle cx="287.0" cy="1425.8" r="5.6"/><circle cx="260.3" cy="1450.3" r="5.6"/><circle cx="250.1" cy="1421.0" r="5.6"/><circle cx="224.7" cy="1413.4" r="5.6"/><circle cx="267.6" cy="1438.0" r="5.6"/><circle cx="260.1" cy="1425.2" r="5.6"/><circle cx="272.2" cy="1422.2" r="5.6"/><circle cx="254.7" cy="1426.9" r="5.6"/><circle cx="194.0" cy="1421.5" r="5.6"/><circle cx="193.8" cy="1405.5" r="5.6"/><circle cx="221.0" cy="1413.5" r="5.6"/><circle cx="265.1" cy="1452.0" r="5.6"/><circle cx="179.1" cy="1408.2" r="5.6"/><circle cx="279.5" cy="1411.9" r="5.6"/><circle cx="172.5" cy="1416.8" r="5.6"/><circle cx="212.1" cy="1401.9" r="5.6"/><circle cx="272.1" cy="1446.5" r="5.6"/><circle cx="228.4" cy="1407.1" r="5.6"/><circle cx="218.5" cy="1425.2" r="5.6"/><circle cx="304.0" cy="1445.6" r="5.6"/><circle cx="238.7" cy="1443.3" r="5.6"/><circle cx="259.3" cy="1423.3" r="5.6"/><circle cx="258.7" cy="1409.7" r="5.6"/><circle cx="237.9" cy="1413.1" r="5.6"/><circle cx="246.7" cy="1422.7" r="5.6"/><circle cx="191.9" cy="1422.3" r="5.6"/><circle cx="226.8" cy="1410.9" r="5.6"/><circle cx="215.1" cy="1408.5" r="5.6"/><circle cx="210.2" cy="1424.6" r="5.6"/><circle cx="214.6" cy="1423.1" r="5.6"/><circle cx="266.5" cy="1418.8" r="5.6"/><circle cx="276.3" cy="1425.5" r="5.6"/><circle cx="300.8" cy="1439.0" r="5.6"/><circle cx="190.5" cy="1415.1" r="5.6"/><circle cx="242.4" cy="1409.1" r="5.6"/><circle cx="299.3" cy="1425.6" r="5.6"/><circle cx="214.0" cy="1429.6" r="5.6"/><circle cx="293.7" cy="1441.7" r="5.6"/><circle cx="305.5" cy="1423.7" r="5.6"/><circle cx="256.7" cy="1448.3" r="5.6"/><circle cx="308.4" cy="1433.1" r="5.6"/><circle cx="250.1" cy="1447.8" r="5.6"/><circle cx="249.8" cy="1434.3" r="5.6"/><circle cx="290.0" cy="1448.2" r="5.6"/><circle cx="255.9" cy="1433.1" r="5.6"/><circle cx="233.4" cy="1426.0" r="5.6"/><circle cx="230.9" cy="1436.7" r="5.6"/><circle cx="252.7" cy="1418.3" r="5.6"/><circle cx="236.0" cy="1433.1" r="5.6"/><circle cx="244.5" cy="1444.3" r="5.6"/><circle cx="235.3" cy="1438.8" r="5.6"/><circle cx="245.3" cy="1433.3" r="5.6"/><circle cx="230.6" cy="1424.1" r="5.6"/><circle cx="183.5" cy="1404.5" r="5.6"/><circle cx="281.0" cy="1440.0" r="5.6"/><circle cx="261.7" cy="1410.4" r="5.6"/><circle cx="255.0" cy="1450.8" r="5.6"/><circle cx="201.6" cy="1420.7" r="5.6"/><circle cx="294.3" cy="1421.8" r="5.6"/><circle cx="222.6" cy="1433.9" r="5.6"/><circle cx="238.7" cy="1413.9" r="5.6"/><circle cx="281.0" cy="1419.8" r="5.6"/><circle cx="236.0" cy="1423.0" r="5.6"/><circle cx="235.4" cy="1407.4" r="5.6"/><circle cx="189.8" cy="1407.5" r="5.6"/><circle cx="269.1" cy="1407.3" r="5.6"/><circle cx="219.6" cy="1431.9" r="5.6"/><circle cx="289.8" cy="1437.9" r="5.6"/><circle cx="272.7" cy="1440.2" r="5.6"/><circle cx="254.4" cy="1439.6" r="5.6"/><circle cx="230.3" cy="1411.9" r="5.6"/><circle cx="232.8" cy="1400.7" r="5.6"/><circle cx="267.5" cy="1431.5" r="5.6"/><circle cx="262.1" cy="1440.0" r="5.6"/><circle cx="307.5" cy="1425.5" r="5.6"/><circle cx="261.8" cy="1415.3" r="5.6"/><circle cx="276.8" cy="1434.1" r="5.6"/><circle cx="233.6" cy="1413.5" r="5.6"/><circle cx="303.3" cy="1417.6" r="5.6"/><circle cx="281.9" cy="1443.4" r="5.6"/><circle cx="186.6" cy="1414.1" r="5.6"/><circle cx="281.0" cy="1417.6" r="5.6"/><circle cx="308.1" cy="1449.8" r="5.6"/><circle cx="265.3" cy="1448.3" r="5.6"/><circle cx="179.6" cy="1415.5" r="5.6"/><circle cx="304.1" cy="1430.4" r="5.6"/><circle cx="303.1" cy="1440.7" r="5.6"/><circle cx="312.3" cy="1449.9" r="5.6"/><circle cx="328.6" cy="1461.1" r="5.6"/><circle cx="336.8" cy="1463.1" r="5.6"/></g>
<g fill="#ffa500" stroke="#000" stroke-width="1.5" fill-opacity="0.8" stroke-opacity="0.8"><path d="M405.5 1498.0L410.5 1508.0L400.5 1508.0Z"/><path d="M421.9 1472.3L426.9 1482.3L416.9 1482.3Z"/><path d="M344.1 1432.8L349.1 1442.8L339.1 1442.8Z"/><path d="M396.8 1494.7L401.8 1504.7L391.8 1504.7Z"/><path d="M406.1 1474.5L411.1 1484.5L401.1 1484.5Z"/><path d="M404.4 1468.4L409.4 1478.4L399.4 1478.4Z"/><path d="M366.1 1437.5L371.1 1447.5L361.1 1447.5Z"/><path d="M417.7 1492.2L422.7 1502.2L412.7 1502.2Z"/><path d="M392.1 1507.8L397.1 1517.8L387.1 1517.8Z"/><path d="M416.4 1478.3L421.4 1488.3L411.4 1488.3Z"/><path d="M412.5 1498.1L417.5 1508.1L407.5 1508.1Z"/><path d="M331.3 1467.9L336.3 1477.9L326.3 1477.9Z"/><path d="M373.8 1443.0L378.8 1453.0L368.8 1453.0Z"/><path d="M374.2 1470.8L379.2 1480.8L369.2 1480.8Z"/><path d="M370.0 1460.8L375.0 1470.8L365.0 1470.8Z"/><path d="M337.8 1442.9L342.8 1452.9L332.8 1452.9Z"/><path d="M385.6 1446.8L390.6 1456.8L380.6 1456.8Z"/><path d="M355.6 1477.5L360.6 1487.5L350.6 1487.5Z"/><path d="M331.4 1464.6L336.4 1474.6L326.4 1474.6Z"/><path d="M368.5 1446.5L373.5 1456.5L363.5 1456.5Z"/><path d="M384.8 1492.6L389.8 1502.6L379.8 1502.6Z"/><path d="M423.1 1490.8L428.1 1500.8L418.1 1500.8Z"/><path d="M370.3 1501.6L375.3 1511.6L365.3 1511.6Z"/><path d="M413.1 1492.9L418.1 1502.9L408.1 1502.9Z"/><path d="M373.5 1481.0L378.5 1491.0L368.5 1491.0Z"/><path d="M340.4 1465.4L345.4 1475.4L335.4 1475.4Z"/><path d="M412.9 1488.7L417.9 1498.7L407.9 1498.7Z"/><path d="M410.0 1499.4L415.0 1509.4L405.0 1509.4Z"/><path d="M402.3 1482.6L407.3 1492.6L397.3 1492.6Z"/><path d="M384.9 1452.5L389.9 1462.5L379.9 1462.5Z"/><path d="M385.5 1501.1L390.5 1511.1L380.5 1511.1Z"/><path d="M336.7 1435.4L341.7 1445.4L331.7 1445.4Z"/><path d="M392.0 1441.6L397.0 1451.6L387.0 1451.6Z"/><path d="M400.0 1509.2L405.0 1519.2L395.0 1519.2Z"/><path d="M394.4 1451.4L399.4 1461.4L389.4 1461.4Z"/><path d="M377.2 1495.3L382.2 1505.3L372.2 1505.3Z"/><path d="M337.3 1453.9L342.3 1463.9L332.3 1463.9Z"/><path d="M361.8 1457.6L366.8 1467.6L356.8 1467.6Z"/><path d="M365.9 1483.8L370.9 1493.8L360.9 1493.8Z"/><path d="M377.8 1478.3L382.8 1488.3L372.8 1488.3Z"/><path d="M413.4 1480.8L418.4 1490.8L408.4 1490.8Z"/><path d="M413.0 1467.2L418.0 1477.2L408.0 1477.2Z"/><path d="M366.1 1469.6L371.1 1479.6L361.1 1479.6Z"/><path d="M339.4 1459.8L344.4 1469.8L334.4 1469.8Z"/><path d="M366.4 1493.5L371.4 1503.5L361.4 1503.5Z"/><path d="M391.5 1489.0L396.5 1499.0L386.5 1499.0Z"/><path d="M396.4 1467.1L401.4 1477.1L391.4 1477.1Z"/><path d="M372.0 1464.2L377.0 1474.2L367.0 1474.2Z"/><path d="M394.0 1471.0L399.0 1481.0L389.0 1481.0Z"/><path d="M363.5 1456.0L368.5 1466.0L358.5 1466.0Z"/><path d="M349.4 1486.6L354.4 1496.6L344.4 1496.6Z"/><path d="M399.8 1493.6L404.8 1503.6L394.8 1503.6Z"/><path d="M354.2 1470.5L359.2 1480.5L349.2 1480.5Z"/><path d="M359.9 1474.5L364.9 1484.5L354.9 1484.5Z"/><path d="M347.0 1456.4L352.0 1466.4L342.0 1466.4Z"/><path d="M379.5 1438.1L384.5 1448.1L374.5 1448.1Z"/><path d="M393.9 1501.3L398.9 1511.3L388.9 1511.3Z"/><path d="M359.6 1489.9L364.6 1499.9L354.6 1499.9Z"/><path d="M366.7 1476.9L371.7 1486.9L361.7 1486.9Z"/><path d="M389.9 1457.9L394.9 1467.9L384.9 1467.9Z"/><path d="M338.6 1476.3L343.6 1486.3L333.6 1486.3Z"/><path d="M382.8 1476.7L387.8 1486.7L377.8 1486.7Z"/><path d="M396.2 1454.3L401.2 1464.3L391.2 1464.3Z"/><path d="M375.6 1456.4L380.6 1466.4L370.6 1466.4Z"/><path d="M351.5 1473.2L356.5 1483.2L346.5 1483.2Z"/><path d="M352.3 1434.6L357.3 1444.6L347.3 1444.6Z"/><path d="M346.3 1482.5L351.3 1492.5L341.3 1492.5Z"/><path d="M408.7 1451.3L413.7 1461.3L403.7 1461.3Z"/><path d="M355.1 1490.1L360.1 1500.1L350.1 1500.1Z"/><path d="M413.1 1458.4L418.1 1468.4L408.1 1468.4Z"/><path d="M405.1 1488.6L410.1 1498.6L400.1 1498.6Z"/><path d="M407.3 1445.0L412.3 1455.0L402.3 1455.0Z"/><path d="M354.3 1463.2L359.3 1473.2L349.3 1473.2Z"/><path d="M381.0 1450.6L386.0 1460.6L376.0 1460.6Z"/><path d="M355.1 1456.1L360.1 1466.1L350.1 1466.1Z"/><path d="M376.4 1492.4L381.4 1502.4L371.4 1502.4Z"/><path d="M375.9 1451.3L380.9 1461.3L370.9 1461.3Z"/><path d="M404.0 1463.0L409.0 1473.0L399.0 1473.0Z"/><path d="M392.9 1470.3L397.9 1480.3L387.9 1480.3Z"/><path d="M370.5 1438.1L375.5 1448.1L365.5 1448.1Z"/><path d="M391.8 1492.1L396.8 1502.1L386.8 1502.1Z"/><path d="M341.4 1472.5L346.4 1482.5L336.4 1482.5Z"/><path d="M352.5 1442.7L357.5 1452.7L347.5 1452.7Z"/><path d="M412.9 1452.5L417.9 1462.5L407.9 1462.5Z"/><path d="M413.8 1473.2L418.8 1483.2L408.8 1483.2Z"/><path d="M404.3 1493.2L409.3 1503.2L399.3 1503.2Z"/><path d="M364.7 1496.3L369.7 1506.3L359.7 1506.3Z"/><path d="M411.1 1459.6L416.1 1469.6L406.1 1469.6Z"/><path d="M382.5 1471.1L387.5 1481.1L377.5 1481.1Z"/><path d="M413.3 1447.0L418.3 1457.0L408.3 1457.0Z"/><path d="M375.8 1488.0L380.8 1498.0L370.8 1498.0Z"/><path d="M343.6 1465.9L348.6 1475.9L338.6 1475.9Z"/><path d="M404.1 1507.4L409.1 1517.4L399.1 1517.4Z"/><path d="M413.8 1462.5L418.8 1472.5L408.8 1472.5Z"/><path d="M378.0 1465.4L383.0 1475.4L373.0 1475.4Z"/><path d="M380.5 1470.7L385.5 1480.7L375.5 1480.7Z"/><path d="M394.7 1485.3L399.7 1495.3L389.7 1495.3Z"/><path d="M349.7 1467.2L354.7 1477.2L344.7 1477.2Z"/><path d="M380.3 1442.7L385.3 1452.7L375.3 1452.7Z"/><path d="M354.0 1471.5L359.0 1481.5L349.0 1481.5Z"/><path d="M338.6 1466.8L343.6 1476.8L333.6 1476.8Z"/><path d="M382.5 1485.9L387.5 1495.9L377.5 1495.9Z"/><path d="M388.9 1481.5L393.9 1491.5L383.9 1491.5Z"/><path d="M409.5 1470.0L414.5 1480.0L404.5 1480.0Z"/><path d="M406.7 1506.6L411.7 1516.6L401.7 1516.6Z"/><path d="M345.9 1471.6L350.9 1481.6L340.9 1481.6Z"/><path d="M359.5 1458.0L364.5 1468.0L354.5 1468.0Z"/><path d="M340.4 1479.1L345.4 1489.1L335.4 1489.1Z"/><path d="M419.8 1487.3L424.8 1497.3L414.8 1497.3Z"/><path d="M396.4 1449.1L401.4 1459.1L391.4 1459.1Z"/><path d="M338.2 1450.4L343.2 1460.4L333.2 1460.4Z"/><path d="M359.2 1464.3L364.2 1474.3L354.2 1474.3Z"/><path d="M359.7 1470.0L364.7 1480.0L354.7 1480.0Z"/><path d="M358.3 1475.5L363.3 1485.5L353.3 1485.5Z"/><path d="M374.4 1446.9L379.4 1456.9L369.4 1456.9Z"/><path d="M349.1 1483.1L354.1 1493.1L344.1 1493.1Z"/><path d="M408.9 1485.5L413.9 1495.5L403.9 1495.5Z"/><path d="M339.9 1436.8L344.9 1446.8L334.9 1446.8Z"/><path d="M346.1 1451.5L351.1 1461.5L341.1 1461.5Z"/><path d="M370.8 1486.5L375.8 1496.5L365.8 1496.5Z"/><path d="M387.6 1501.1L392.6 1511.1L382.6 1511.1Z"/><path d="M368.1 1466.9L373.1 1476.9L363.1 1476.9Z"/><path d="M409.9 1500.0L414.9 1510.0L404.9 1510.0Z"/><path d="M366.2 1487.9L371.2 1497.9L361.2 1497.9Z"/><path d="M405.3 1503.5L410.3 1513.5L400.3 1513.5Z"/><path d="M352.7 1492.6L357.7 1502.6L347.7 1502.6Z"/><path d="M368.1 1451.6L373.1 1461.6L363.1 1461.6Z"/><path d="M387.9 1489.1L392.9 1499.1L382.9 1499.1Z"/><path d="M382.8 1499.3L387.8 1509.3L377.8 1509.3Z"/><path d="M349.0 1454.5L354.0 1464.5L344.0 1464.5Z"/><path d="M391.2 1479.0L396.2 1489.0L386.2 1489.0Z"/><path d="M359.6 1438.6L364.6 1448.6L354.6 1448.6Z"/><path d="M346.1 1441.7L351.1 1451.7L341.1 1451.7Z"/><path d="M404.3 1447.7L409.3 1457.7L399.3 1457.7Z"/><path d="M407.4 1482.7L412.4 1492.7L402.4 1492.7Z"/><path d="M369.3 1476.4L374.3 1486.4L364.3 1486.4Z"/><path d="M399.1 1462.5L404.1 1472.5L394.1 1472.5Z"/><path d="M359.6 1441.9L364.6 1451.9L354.6 1451.9Z"/><path d="M374.8 1438.4L379.8 1448.4L369.8 1448.4Z"/><path d="M398.2 1489.7L403.2 1499.7L393.2 1499.7Z"/><path d="M407.7 1438.6L412.7 1448.6L402.7 1448.6Z"/><path d="M357.4 1434.9L362.4 1444.9L352.4 1444.9Z"/><path d="M401.4 1501.4L406.4 1511.4L396.4 1511.4Z"/><path d="M340.3 1469.0L345.3 1479.0L335.3 1479.0Z"/><path d="M335.2 1472.0L340.2 1482.0L330.2 1482.0Z"/><path d="M377.3 1468.9L382.3 1478.9L372.3 1478.9Z"/><path d="M398.3 1458.6L403.3 1468.6L393.3 1468.6Z"/><path d="M416.1 1456.2L421.1 1466.2L411.1 1466.2Z"/><path d="M416.7 1461.3L421.7 1471.3L411.7 1471.3Z"/><path d="M387.3 1461.2L392.3 1471.2L382.3 1471.2Z"/><path d="M345.8 1443.4L350.8 1453.4L340.8 1453.4Z"/><path d="M389.2 1460.8L394.2 1470.8L384.2 1470.8Z"/><path d="M388.2 1499.9L393.2 1509.9L383.2 1509.9Z"/><path d="M396.9 1497.0L401.9 1507.0L391.9 1507.0Z"/><path d="M401.7 1444.3L406.7 1454.3L396.7 1454.3Z"/><path d="M352.7 1440.0L357.7 1450.0L347.7 1450.0Z"/><path d="M385.8 1469.2L390.8 1479.2L380.8 1479.2Z"/><path d="M401.1 1460.8L406.1 1470.8L396.1 1470.8Z"/><path d="M389.0 1477.1L394.0 1487.1L384.0 1487.1Z"/><path d="M400.5 1435.0L405.5 1445.0L395.5 1445.0Z"/><path d="M379.3 1470.5L384.3 1480.5L374.3 1480.5Z"/><path d="M422.6 1479.0L427.6 1489.0L417.6 1489.0Z"/><path d="M357.6 1446.9L362.6 1456.9L352.6 1456.9Z"/><path d="M374.2 1455.4L379.2 1465.4L369.2 1465.4Z"/><path d="M373.1 1492.3L378.1 1502.3L368.1 1502.3Z"/><path d="M397.1 1440.3L402.1 1450.3L392.1 1450.3Z"/><path d="M367.9 1465.6L372.9 1475.6L362.9 1475.6Z"/><path d="M376.0 1484.9L381.0 1494.9L371.0 1494.9Z"/><path d="M339.9 1449.3L344.9 1459.3L334.9 1459.3Z"/><path d="M402.9 1473.6L407.9 1483.6L397.9 1483.6Z"/><path d="M391.3 1472.8L396.3 1482.8L386.3 1482.8Z"/><path d="M349.9 1462.7L354.9 1472.7L344.9 1472.7Z"/><path d="M421.4 1481.7L426.4 1491.7L416.4 1491.7Z"/><path d="M370.5 1499.4L375.5 1509.4L365.5 1509.4Z"/><path d="M335.2 1445.6L340.2 1455.6L330.2 1455.6Z"/><path d="M366.2 1451.1L371.2 1461.1L361.2 1461.1Z"/><path d="M382.0 1459.9L387.0 1469.9L377.0 1469.9Z"/><path d="M417.3 1483.8L422.3 1493.8L412.3 1493.8Z"/><path d="M351.3 1485.4L356.3 1495.4L346.3 1495.4Z"/><path d="M393.0 1443.2L398.0 1453.2L388.0 1453.2Z"/><path d="M402.8 1441.1L407.8 1451.1L397.8 1451.1Z"/><path d="M355.5 1447.4L360.5 1457.4L350.5 1457.4Z"/><path d="M410.1 1447.9L415.1 1457.9L405.1 1457.9Z"/><path d="M388.9 1506.8L393.9 1516.8L383.9 1516.8Z"/><path d="M360.2 1483.2L365.2 1493.2L355.2 1493.2Z"/><path d="M335.8 1437.3L340.8 1447.3L330.8 1447.3Z"/><path d="M379.2 1500.6L384.2 1510.6L374.2 1510.6Z"/><path d="M332.4 1455.1L337.4 1465.1L327.4 1465.1Z"/><path d="M389.7 1452.9L394.7 1462.9L384.7 1462.9Z"/><path d="M383.8 1442.2L388.8 1452.2L378.8 1452.2Z"/><path d="M336.0 1458.0L341.0 1468.0L331.0 1468.0Z"/><path d="M399.4 1478.3L404.4 1488.3L394.4 1488.3Z"/><path d="M391.9 1495.7L396.9 1505.7L386.9 1505.7Z"/><path d="M386.3 1462.7L391.3 1472.7L381.3 1472.7Z"/><path d="M402.5 1454.5L407.5 1464.5L397.5 1464.5Z"/><path d="M388.2 1439.5L393.2 1449.5L383.2 1449.5Z"/><path d="M354.6 1480.5L359.6 1490.5L349.6 1490.5Z"/><path d="M408.0 1480.2L413.0 1490.2L403.0 1490.2Z"/><path d="M384.3 1483.6L389.3 1493.6L379.3 1493.6Z"/><path d="M354.2 1442.9L359.2 1452.9L349.2 1452.9Z"/><path d="M345.6 1477.6L350.6 1487.6L340.6 1487.6Z"/><path d="M365.4 1473.6L370.4 1483.6L360.4 1483.6Z"/><path d="M389.8 1446.3L394.8 1456.3L384.8 1456.3Z"/><path d="M363.1 1494.6L368.1 1504.6L358.1 1504.6Z"/><path d="M345.1 1449.2L350.1 1459.2L340.1 1459.2Z"/><path d="M415.8 1473.4L420.8 1483.4L410.8 1483.4Z"/><path d="M393.6 1465.7L398.6 1475.7L388.6 1475.7Z"/><path d="M352.3 1459.9L357.3 1469.9L347.3 1469.9Z"/><path d="M403.7 1477.7L408.7 1487.7L398.7 1487.7Z"/><path d="M368.7 1447.6L373.7 1457.6L363.7 1457.6Z"/><path d="M319.4 1455.1L324.4 1465.1L314.4 1465.1Z"/><path d="M325.5 1457.1L330.5 1467.1L320.5 1467.1Z"/><path d="M329.6 1469.4L334.6 1479.4L324.6 1479.4Z"/><path d="M336.8 1491.9L341.8 1501.9L331.8 1501.9Z"/><path d="M340.9 1483.7L345.9 1493.7L335.9 1493.7Z"/><path d="M348.0 1497.0L353.0 1507.0L343.0 1507.0Z"/><path d="M351.1 1510.3L356.1 1520.3L346.1 1520.3Z"/><path d="M355.2 1517.4L360.2 1527.4L350.2 1527.4Z"/><path d="M372.6 1520.5L377.6 1530.5L367.6 1530.5Z"/><path d="M384.8 1515.4L389.8 1525.4L379.8 1525.4Z"/><path d="M395.6 1528.6L400.6 1538.6L390.6 1538.6Z"/><path d="M349.1 1533.8L354.1 1543.8L344.1 1543.8Z"/><path d="M319.4 1436.7L324.4 1446.7L314.4 1446.7Z"/><path d="M335.8 1437.7L340.8 1447.7L330.8 1447.7Z"/><path d="M357.2 1430.5L362.2 1440.5L352.2 1440.5Z"/><path d="M350.1 1429.5L355.1 1439.5L345.1 1439.5Z"/><path d="M373.6 1431.6L378.6 1441.6L368.6 1441.6Z"/><path d="M399.1 1431.6L404.1 1441.6L394.1 1441.6Z"/><path d="M433.9 1480.6L438.9 1490.6L428.9 1490.6Z"/><path d="M402.2 1503.1L407.2 1513.1L397.2 1513.1Z"/></g>
<rect x="90.3" y="1137.5" width="591.3" height="426.6" fill="none" stroke="#222" stroke-width="1.7"/>
<rect x="118.7" y="1663.3" width="535.1" height="90.1" rx="4.5" ry="4.5" fill="#fff" stroke="#d6d6d6" stroke-width="1.8"/>
<g fill="#ffff00" stroke="#000" stroke-width="1.5" fill-opacity="0.8" stroke-opacity="0.8"><rect x="152.2" y="1684.3" width="10.4" height="10.4"/></g>
<text x="209.6" y="1695.7" font-size="29" fill="#111" textLength="106.0" lengthAdjust="spacingAndGlyphs">Ethanol</text>
<g fill="#ff0000" stroke="#000" stroke-width="1.5" fill-opacity="0.8" stroke-opacity="0.8"><path d="M157.4 1722.8L164.6 1730.0L157.4 1737.2L150.2 1730.0Z"/></g>
<text x="209.9" y="1736.2" font-size="29" fill="#111" textLength="84.2" lengthAdjust="spacingAndGlyphs">Water</text>
<g fill="#0000ff" stroke="#000" stroke-width="1.5" fill-opacity="0.8" stroke-opacity="0.8"><circle cx="401.1" cy="1689.6" r="5.6"/></g>
<text x="452.7" y="1695.7" font-size="29" fill="#111" textLength="120.7" lengthAdjust="spacingAndGlyphs">Heptane</text>
<g fill="#ffa500" stroke="#000" stroke-width="1.5" fill-opacity="0.8" stroke-opacity="0.8"><path d="M401.1 1725.0L406.1 1735.0L396.1 1735.0Z"/></g>
<text x="451.0" y="1736.2" font-size="29" fill="#111" textLength="191.4" lengthAdjust="spacingAndGlyphs">Ethyl Acetate</text>
</svg></div>
</body></html>
